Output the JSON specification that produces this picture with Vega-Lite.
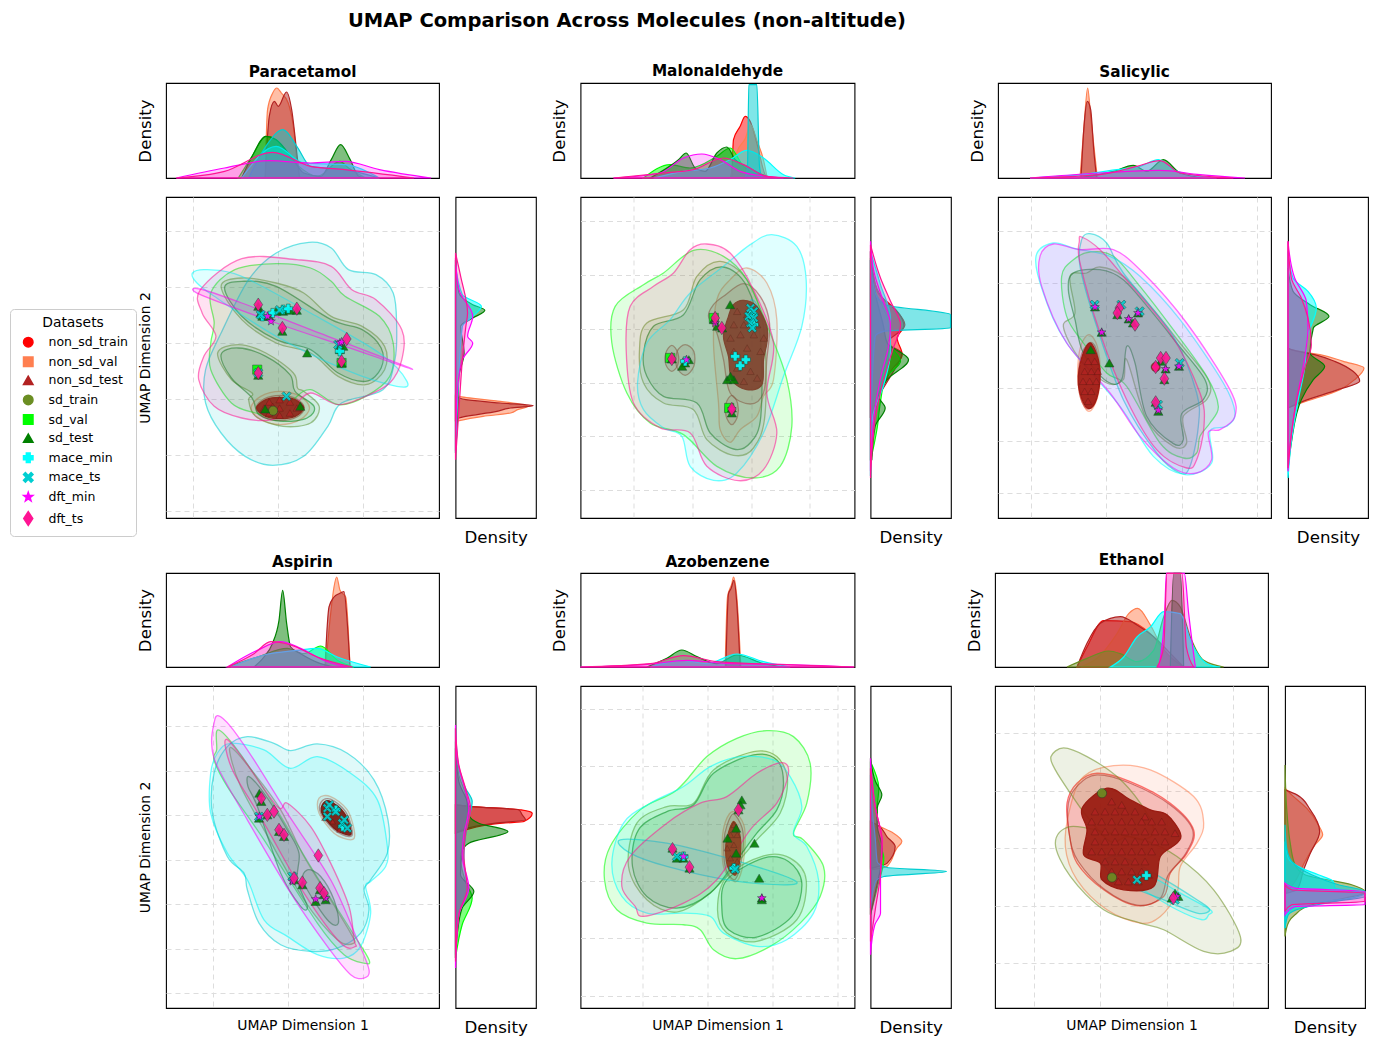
{"$schema":"https://vega.github.io/schema/vega-lite/v6.json","padding":{"left":9,"top":10,"right":5,"bottom":5},"title":{"text":"UMAP Comparison Across Molecules (non-altitude)","fontSize":19.5,"fontWeight":"bold","anchor":"start","frame":"group","dx":182,"offset":32},
"config":{"font":"DejaVu Sans","view":{"stroke":"#000","strokeWidth":1.1},"legend":{"disable":true},"range":{"category":["#ff0000","#ff7f50","#b22222","#6b8e23","#00ff00","#008000","#00ffff","#00ced1","#ff00ff","#ff1493"]},"axis":{"labels":false,"ticks":false,"domain":false,"grid":false,"gridDash":[5,4],"gridColor":"#ddd","titleFontWeight":"normal","titlePadding":10,"titleFontSize":13.9},"title":{"fontSize":15.3,"fontWeight":"bold","offset":3,"anchor":"middle"},"area":{"clip":true,"interpolate":"monotone","strokeWidth":1.2},"line":{"order":null,"interpolate":"cardinal-closed","fillOpacity":0.12,"strokeOpacity":0.55,"strokeWidth":1.3}},
"datasets":{
"e":[],
"c1":[
{"s":"non_sd_val","x":33.2,"y":38},{"s":"non_sd_val","x":39,"y":36.5},{"s":"non_sd_val","x":41.7,"y":33},{"s":"non_sd_val","x":39,"y":29.5},{"s":"non_sd_val","x":33.2,"y":28},{"s":"non_sd_val","x":27.5,"y":29.5},{"s":"non_sd_val","x":24.7,"y":33},{"s":"non_sd_val","x":27.5,"y":36.5},
{"s":"non_sd_test","x":33.2,"y":36.8},{"s":"non_sd_test","x":38,"y":35.7},{"s":"non_sd_test","x":40.2,"y":33},{"s":"non_sd_test","x":38,"y":30.3},{"s":"non_sd_test","x":33.2,"y":29.2},{"s":"non_sd_test","x":28.4,"y":30.3},{"s":"non_sd_test","x":26.2,"y":33},{"s":"non_sd_test","x":28.4,"y":35.7},
{"s":"sd_train","g":1,"x":16,"y":69.5},{"s":"sd_train","g":1,"x":22,"y":72},{"s":"sd_train","g":1,"x":32,"y":70.5},{"s":"sd_train","g":1,"x":40,"y":67.5},{"s":"sd_train","g":1,"x":48,"y":60.5},{"s":"sd_train","g":1,"x":57,"y":57.5},{"s":"sd_train","g":1,"x":63.5,"y":51.5},{"s":"sd_train","g":1,"x":63.5,"y":44.5},{"s":"sd_train","g":1,"x":58,"y":40},{"s":"sd_train","g":1,"x":50,"y":42.5},{"s":"sd_train","g":1,"x":42,"y":49.5},{"s":"sd_train","g":1,"x":32,"y":52.5},{"s":"sd_train","g":1,"x":22,"y":59.5},
{"s":"sd_train","g":2,"x":15,"y":49.5},{"s":"sd_train","g":2,"x":21,"y":52},{"s":"sd_train","g":2,"x":29,"y":49.5},{"s":"sd_train","g":2,"x":37,"y":43.5},{"s":"sd_train","g":2,"x":38.2,"y":39},{"s":"sd_train","g":2,"x":40,"y":38},{"s":"sd_train","g":2,"x":44.5,"y":33.5},{"s":"sd_train","g":2,"x":42,"y":28.5},{"s":"sd_train","g":2,"x":34,"y":27.5},{"s":"sd_train","g":2,"x":26,"y":30.5},{"s":"sd_train","g":2,"x":24,"y":35.5},{"s":"sd_train","g":2,"x":25,"y":37.5},{"s":"sd_train","g":2,"x":19,"y":41.5},
{"s":"sd_val","x":32,"y":76.3},{"s":"sd_val","x":42,"y":75},{"s":"sd_val","x":48,"y":71},{"s":"sd_val","x":52,"y":66.5},{"s":"sd_val","x":62,"y":60.5},{"s":"sd_val","x":66,"y":52.5},{"s":"sd_val","x":65,"y":42.5},{"s":"sd_val","x":58,"y":36.5},{"s":"sd_val","x":50,"y":34},{"s":"sd_val","x":42,"y":38.5},{"s":"sd_val","x":37,"y":35.5},{"s":"sd_val","x":32,"y":30.5},{"s":"sd_val","x":26,"y":31.5},{"s":"sd_val","x":19,"y":34.5},{"s":"sd_val","x":13,"y":44.5},{"s":"sd_val","x":13,"y":52.5},{"s":"sd_val","x":14,"y":58.5},{"s":"sd_val","x":13,"y":67.5},{"s":"sd_val","x":20,"y":74.5},
{"s":"sd_test","g":1,"x":17,"y":69},{"s":"sd_test","g":1,"x":22,"y":71},{"s":"sd_test","g":1,"x":32,"y":69.5},{"s":"sd_test","g":1,"x":48,"y":59.5},{"s":"sd_test","g":1,"x":57,"y":56.5},{"s":"sd_test","g":1,"x":62.5,"y":51},{"s":"sd_test","g":1,"x":62.5,"y":45},{"s":"sd_test","g":1,"x":58,"y":41},{"s":"sd_test","g":1,"x":50,"y":43.5},{"s":"sd_test","g":1,"x":42,"y":50.5},{"s":"sd_test","g":1,"x":32,"y":53.5},{"s":"sd_test","g":1,"x":22,"y":60.5},
{"s":"sd_test","g":2,"x":16,"y":49},{"s":"sd_test","g":2,"x":21,"y":51},{"s":"sd_test","g":2,"x":29,"y":48.5},{"s":"sd_test","g":2,"x":36,"y":43},{"s":"sd_test","g":2,"x":37.5,"y":38},{"s":"sd_test","g":2,"x":43,"y":33.5},{"s":"sd_test","g":2,"x":41,"y":30},{"s":"sd_test","g":2,"x":34,"y":29},{"s":"sd_test","g":2,"x":27,"y":31},{"s":"sd_test","g":2,"x":25,"y":36},{"s":"sd_test","g":2,"x":19,"y":42},
{"s":"mace_min","x":7.7,"y":73.5},{"s":"mace_min","x":12,"y":74.5},{"s":"mace_min","x":22,"y":72.5},{"s":"mace_min","x":42,"y":61.5},{"s":"mace_min","x":62,"y":49.5},{"s":"mace_min","x":70,"y":41},{"s":"mace_min","x":67,"y":39.5},{"s":"mace_min","x":52,"y":44.5},{"s":"mace_min","x":32,"y":54.5},{"s":"mace_min","x":14,"y":66.5},{"s":"mace_min","x":9,"y":70.5},
{"s":"mace_ts","x":41.5,"y":82.7},{"s":"mace_ts","x":48,"y":81},{"s":"mace_ts","x":53,"y":74.5},{"s":"mace_ts","x":61,"y":73},{"s":"mace_ts","x":66,"y":67.5},{"s":"mace_ts","x":67,"y":57.5},{"s":"mace_ts","x":66.5,"y":47.5},{"s":"mace_ts","x":63,"y":38.5},{"s":"mace_ts","x":51,"y":34.5},{"s":"mace_ts","x":47,"y":27.5},{"s":"mace_ts","x":40,"y":18.5},{"s":"mace_ts","x":31,"y":15.8},{"s":"mace_ts","x":23,"y":18.5},{"s":"mace_ts","x":16,"y":25.5},{"s":"mace_ts","x":11.5,"y":34.5},{"s":"mace_ts","x":11.5,"y":44.5},{"s":"mace_ts","x":16,"y":55.5},{"s":"mace_ts","x":24,"y":71.5},{"s":"mace_ts","x":32,"y":79.5},
{"s":"dft_min","x":9.8,"y":68.7},{"s":"dft_min","x":22,"y":64.5},{"s":"dft_min","x":42,"y":56.5},{"s":"dft_min","x":71.5,"y":44.7},{"s":"dft_min","x":52,"y":51.5},{"s":"dft_min","x":32,"y":58.5},{"s":"dft_min","x":10,"y":67},
{"s":"dft_ts","x":10,"y":68.5},{"s":"dft_ts","x":22,"y":77.8},{"s":"dft_ts","x":38,"y":77.5},{"s":"dft_ts","x":48,"y":75.5},{"s":"dft_ts","x":54,"y":68.5},{"s":"dft_ts","x":61,"y":65.5},{"s":"dft_ts","x":68.5,"y":56.5},{"s":"dft_ts","x":68.5,"y":47.5},{"s":"dft_ts","x":65,"y":40.5},{"s":"dft_ts","x":58,"y":36.5},{"s":"dft_ts","x":50,"y":34},{"s":"dft_ts","x":42,"y":37.5},{"s":"dft_ts","x":37,"y":33.5},{"s":"dft_ts","x":31,"y":29.5},{"s":"dft_ts","x":22,"y":30},{"s":"dft_ts","x":14,"y":33.5},{"s":"dft_ts","x":9.5,"y":41.5},{"s":"dft_ts","x":11,"y":48.5},{"s":"dft_ts","x":14.5,"y":54.5},{"s":"dft_ts","x":10.5,"y":61.5}],
"k1":[{"x":33.2,"y":36.2},{"x":37.5,"y":35.5},{"x":40,"y":33},{"x":37.5,"y":30.5},{"x":33.2,"y":29.8},{"x":29,"y":30.5},{"x":26.3,"y":33},{"x":29,"y":35.5}],
"q1":[{"s":"non_sd_test","x":28.5,"y":33},{"s":"non_sd_test","x":30,"y":34.8},{"s":"non_sd_test","x":33,"y":35.5},{"s":"non_sd_test","x":36,"y":34.8},{"s":"non_sd_test","x":38,"y":33},{"s":"non_sd_test","x":30,"y":31.5},{"s":"non_sd_test","x":33,"y":33},{"s":"non_sd_test","x":36,"y":31.5},{"s":"non_sd_test","x":33,"y":30.8},{"s":"non_sd_test","x":31,"y":33.5}],
"p1":[{"s":"sd_train","x":31.1,"y":32.2},{"s":"sd_val","x":26.5,"y":44.5},{"s":"sd_val","x":51,"y":46.5},{"s":"sd_test","x":26.8,"y":63.5},{"s":"sd_test","x":28,"y":60.5},{"s":"sd_test","x":27.5,"y":61.5},{"s":"sd_test","x":30,"y":60.5},{"s":"sd_test","x":32,"y":62},{"s":"sd_test","x":34,"y":62},{"s":"sd_test","x":36,"y":62.3},{"s":"sd_test","x":38,"y":62.3},{"s":"sd_test","x":33.8,"y":56},{"s":"sd_test","x":50.5,"y":52},{"s":"sd_test","x":50.5,"y":50.5},{"s":"sd_test","x":51.5,"y":51.5},{"s":"sd_test","x":51,"y":46.5},{"s":"sd_test","x":26.8,"y":42.8},{"s":"sd_test","x":28.8,"y":32.7},{"s":"sd_test","x":39,"y":33.5},{"s":"sd_test","x":41,"y":49.5},{"s":"mace_min","x":28,"y":60.5},{"s":"mace_min","x":31,"y":61.5},{"s":"mace_min","x":34,"y":62.5},{"s":"mace_min","x":35.5,"y":62.8},{"s":"mace_min","x":50.5,"y":50},{"s":"mace_ts","x":27.5,"y":61},{"s":"mace_ts","x":33,"y":62.4},{"s":"mace_ts","x":50,"y":52},{"s":"mace_ts","x":26.8,"y":43.5},{"s":"mace_ts","x":35,"y":36.5},{"s":"dft_min","x":29.5,"y":60.5},{"s":"dft_min","x":30.5,"y":59},{"s":"dft_min","x":50.5,"y":52.5},{"s":"dft_min","x":51,"y":52.8},{"s":"dft_ts","x":26.8,"y":64},{"s":"dft_ts","x":38,"y":62.8},{"s":"dft_ts","x":33.8,"y":57},{"s":"dft_ts","x":52.5,"y":53.7},{"s":"dft_ts","x":51,"y":47},{"s":"dft_ts","x":26.8,"y":43.5}],
"t1":[
{"s":"non_sd_val","x":28.8,"d":0},{"s":"non_sd_val","x":29.5,"d":20.5},{"s":"non_sd_val","x":31,"d":25.5},{"s":"non_sd_val","x":32.2,"d":27},{"s":"non_sd_val","x":33.5,"d":25.5},{"s":"non_sd_val","x":35.5,"d":22.5},{"s":"non_sd_val","x":37,"d":15.5},{"s":"non_sd_val","x":38.5,"d":1.5},{"s":"non_sd_val","x":39,"d":0},
{"s":"non_sd_test","x":28.8,"d":0},{"s":"non_sd_test","x":30,"d":18.5},{"s":"non_sd_test","x":31.5,"d":23},{"s":"non_sd_test","x":32.6,"d":21.5},{"s":"non_sd_test","x":35,"d":25.8},{"s":"non_sd_test","x":36.5,"d":20.5},{"s":"non_sd_test","x":38,"d":7.5},{"s":"non_sd_test","x":38.8,"d":0},
{"s":"sd_val","x":21,"d":0},{"s":"sd_val","x":25,"d":6.5},{"s":"sd_val","x":29,"d":12.5},{"s":"sd_val","x":32,"d":11.5},{"s":"sd_val","x":38,"d":4},{"s":"sd_val","x":44,"d":0.5},{"s":"sd_val","x":50.5,"d":5},{"s":"sd_val","x":53,"d":3},{"s":"sd_val","x":58,"d":0},
{"s":"sd_test","x":22,"d":0},{"s":"sd_test","x":25,"d":6.5},{"s":"sd_test","x":29,"d":12.5},{"s":"sd_test","x":32,"d":11.5},{"s":"sd_test","x":37,"d":5.5},{"s":"sd_test","x":40,"d":1.5},{"s":"sd_test","x":45,"d":0.5},{"s":"sd_test","x":48,"d":5.5},{"s":"sd_test","x":50.7,"d":10},{"s":"sd_test","x":53.5,"d":5.5},{"s":"sd_test","x":56,"d":0.5},{"s":"sd_test","x":58,"d":0},
{"s":"mace_min","x":22,"d":0},{"s":"mace_min","x":32,"d":9.5},{"s":"mace_min","x":40,"d":4.5},{"s":"mace_min","x":52,"d":4},{"s":"mace_min","x":62,"d":0},
{"s":"mace_ts","x":24,"d":0},{"s":"mace_ts","x":29,"d":9.5},{"s":"mace_ts","x":34,"d":14.5},{"s":"mace_ts","x":38,"d":9.5},{"s":"mace_ts","x":42,"d":3.5},{"s":"mace_ts","x":52,"d":2.5},{"s":"mace_ts","x":62,"d":0},
{"s":"dft_min","x":3,"d":0},{"s":"dft_min","x":17,"d":3},{"s":"dft_min","x":30,"d":5.2},{"s":"dft_min","x":42,"d":4.5},{"s":"dft_min","x":52,"d":5},{"s":"dft_min","x":62,"d":2.5},{"s":"dft_min","x":77,"d":0},
{"s":"dft_ts","x":3,"d":0},{"s":"dft_ts","x":17,"d":2},{"s":"dft_ts","x":31,"d":7.7},{"s":"dft_ts","x":42,"d":3.5},{"s":"dft_ts","x":52,"d":2.5},{"s":"dft_ts","x":72,"d":0}],
"r1":[
{"s":"non_sd_val","y":29,"d":0},{"s":"non_sd_val","y":30.5,"d":8},{"s":"non_sd_val","y":31.5,"d":16},{"s":"non_sd_val","y":32.5,"d":18},{"s":"non_sd_val","y":33.5,"d":21},{"s":"non_sd_val","y":35,"d":13},{"s":"non_sd_val","y":36.5,"d":1},{"s":"non_sd_val","y":37,"d":0},
{"s":"non_sd_test","y":29,"d":0},{"s":"non_sd_test","y":30,"d":1},{"s":"non_sd_test","y":32,"d":12},{"s":"non_sd_test","y":33,"d":16},{"s":"non_sd_test","y":33.7,"d":22.5},{"s":"non_sd_test","y":34.5,"d":13},{"s":"non_sd_test","y":35.5,"d":3},{"s":"non_sd_test","y":36.5,"d":0},
{"s":"sd_test","y":19.5,"d":0},{"s":"sd_test","y":27.5,"d":0.5},{"s":"sd_test","y":42.5,"d":1},{"s":"sd_test","y":49.5,"d":2.5},{"s":"sd_test","y":57.5,"d":1.5},{"s":"sd_test","y":60,"d":5},{"s":"sd_test","y":62.3,"d":8.5},{"s":"sd_test","y":64,"d":5},{"s":"sd_test","y":67.5,"d":1},{"s":"sd_test","y":77.5,"d":0},
{"s":"mace_min","y":19.5,"d":0},{"s":"mace_min","y":37.5,"d":0.7},{"s":"mace_min","y":57.5,"d":2},{"s":"mace_min","y":60.5,"d":5},{"s":"mace_min","y":63.5,"d":7.5},{"s":"mace_min","y":67,"d":2},{"s":"mace_min","y":76,"d":0},
{"s":"dft_min","y":20,"d":0},{"s":"dft_min","y":37.5,"d":0.5},{"s":"dft_min","y":47.5,"d":2},{"s":"dft_min","y":52.5,"d":5},{"s":"dft_min","y":54.5,"d":3.5},{"s":"dft_min","y":60.5,"d":5},{"s":"dft_min","y":68.5,"d":1},{"s":"dft_min","y":78,"d":0},
{"s":"dft_ts","y":17.5,"d":0},{"s":"dft_ts","y":32.5,"d":1},{"s":"dft_ts","y":47.5,"d":2},{"s":"dft_ts","y":57.5,"d":3},{"s":"dft_ts","y":61.5,"d":3.5},{"s":"dft_ts","y":72.5,"d":1.5},{"s":"dft_ts","y":79.5,"d":0}],
"c2":[
{"s":"non_sd_val","x":49.9,"y":75},{"s":"non_sd_val","x":55.9,"y":70.5},{"s":"non_sd_val","x":58.9,"y":59.5},{"s":"non_sd_val","x":57.9,"y":41.5},{"s":"non_sd_val","x":54.9,"y":36.5},{"s":"non_sd_val","x":52.9,"y":30.5},{"s":"non_sd_val","x":47.9,"y":26.5},{"s":"non_sd_val","x":44.9,"y":22.7},{"s":"non_sd_val","x":41.9,"y":26.5},{"s":"non_sd_val","x":41.4,"y":34.5},{"s":"non_sd_val","x":39.9,"y":52.5},{"s":"non_sd_val","x":40.9,"y":65.5},{"s":"non_sd_val","x":44.9,"y":71.5},
{"s":"non_sd_test","x":48.9,"y":70.3},{"s":"non_sd_test","x":53.9,"y":66.5},{"s":"non_sd_test","x":56.7,"y":58.5},{"s":"non_sd_test","x":55.9,"y":47.5},{"s":"non_sd_test","x":54.9,"y":37.5},{"s":"non_sd_test","x":50.9,"y":34.2},{"s":"non_sd_test","x":44.9,"y":37.5},{"s":"non_sd_test","x":42.9,"y":47.5},{"s":"non_sd_test","x":40.9,"y":55.5},{"s":"non_sd_test","x":38.4,"y":60.5},{"s":"non_sd_test","x":39.9,"y":64},{"s":"non_sd_test","x":42.9,"y":66.5},
{"s":"non_sd_test","g":1,"x":27.4,"y":51.8},{"s":"non_sd_test","g":1,"x":29.2,"y":49.5},{"s":"non_sd_test","g":1,"x":29.2,"y":46},{"s":"non_sd_test","g":1,"x":27.4,"y":44},{"s":"non_sd_test","g":1,"x":25.6,"y":46},{"s":"non_sd_test","g":1,"x":25.6,"y":49.5},
{"s":"non_sd_test","g":2,"x":31.4,"y":52},{"s":"non_sd_test","g":2,"x":34,"y":50},{"s":"non_sd_test","g":2,"x":34,"y":45.5},{"s":"non_sd_test","g":2,"x":31.4,"y":42.8},{"s":"non_sd_test","g":2,"x":28.8,"y":45.5},{"s":"non_sd_test","g":2,"x":29,"y":50},
{"s":"non_sd_test","g":3,"x":45.4,"y":36.8},{"s":"non_sd_test","g":3,"x":47.1,"y":34.5},{"s":"non_sd_test","g":3,"x":47.1,"y":30.5},{"s":"non_sd_test","g":3,"x":45.4,"y":28},{"s":"non_sd_test","g":3,"x":43.7,"y":30.5},{"s":"non_sd_test","g":3,"x":43.7,"y":34.5},
{"s":"sd_train","x":41.9,"y":77},{"s":"sd_train","x":49.9,"y":71.5},{"s":"sd_train","x":54.9,"y":57.5},{"s":"sd_train","x":55.4,"y":31.5},{"s":"sd_train","x":51.9,"y":21},{"s":"sd_train","x":45.9,"y":18.8},{"s":"sd_train","x":37.9,"y":23.5},{"s":"sd_train","x":33.9,"y":32.5},{"s":"sd_train","x":24.9,"y":34.5},{"s":"sd_train","x":18.9,"y":40.5},{"s":"sd_train","x":17.7,"y":50.5},{"s":"sd_train","x":19.9,"y":58.5},{"s":"sd_train","x":30.9,"y":62.5},{"s":"sd_train","x":34.9,"y":72.5},
{"s":"sd_val","x":33.9,"y":80.3},{"s":"sd_val","x":42.9,"y":78.5},{"s":"sd_val","x":49.9,"y":71.5},{"s":"sd_val","x":56.9,"y":55.5},{"s":"sd_val","x":61.9,"y":41.5},{"s":"sd_val","x":63.4,"y":27.5},{"s":"sd_val","x":59.9,"y":15.5},{"s":"sd_val","x":51.9,"y":12},{"s":"sd_val","x":40.9,"y":15.5},{"s":"sd_val","x":30.9,"y":25},{"s":"sd_val","x":20.9,"y":28.5},{"s":"sd_val","x":13.9,"y":37.5},{"s":"sd_val","x":9.4,"y":52.5},{"s":"sd_val","x":10.4,"y":63.5},{"s":"sd_val","x":18.9,"y":70},{"s":"sd_val","x":24.9,"y":73.5},
{"s":"sd_test","x":42.9,"y":75.3},{"s":"sd_test","x":49.9,"y":69.5},{"s":"sd_test","x":53.9,"y":54.5},{"s":"sd_test","x":54.1,"y":30.5},{"s":"sd_test","x":50.9,"y":22.5},{"s":"sd_test","x":45.9,"y":20.7},{"s":"sd_test","x":38.9,"y":25.5},{"s":"sd_test","x":34.9,"y":34.5},{"s":"sd_test","x":24.9,"y":36.5},{"s":"sd_test","x":19.9,"y":42.5},{"s":"sd_test","x":18.9,"y":49.5},{"s":"sd_test","x":21.9,"y":57.5},{"s":"sd_test","x":30.9,"y":61},{"s":"sd_test","x":35.9,"y":71.5},
{"s":"mace_min","x":57.4,"y":85},{"s":"mace_min","x":64.9,"y":81.5},{"s":"mace_min","x":67.7,"y":71.5},{"s":"mace_min","x":66.4,"y":57.5},{"s":"mace_min","x":60.9,"y":42.5},{"s":"mace_min","x":54.9,"y":25.5},{"s":"mace_min","x":46.9,"y":13.5},{"s":"mace_min","x":39.9,"y":11.3},{"s":"mace_min","x":32.9,"y":15.5},{"s":"mace_min","x":30.4,"y":24.5},{"s":"mace_min","x":24.9,"y":27},{"s":"mace_min","x":18.9,"y":32.5},{"s":"mace_min","x":17.1,"y":40.5},{"s":"mace_min","x":19.9,"y":52.5},{"s":"mace_min","x":26.9,"y":59.5},{"s":"mace_min","x":32.9,"y":67.5},{"s":"mace_min","x":42.9,"y":75.5},{"s":"mace_min","x":50.9,"y":82},
{"s":"mace_ts","x":51.5,"y":65.5},{"s":"mace_ts","x":53.5,"y":62.5},{"s":"mace_ts","x":53.5,"y":57.5},{"s":"mace_ts","x":51.5,"y":54.5},{"s":"mace_ts","x":49.5,"y":57.5},{"s":"mace_ts","x":49.5,"y":62.5},
{"s":"dft_ts","x":37.9,"y":82.2},{"s":"dft_ts","x":44.9,"y":79.5},{"s":"dft_ts","x":51.9,"y":68.5},{"s":"dft_ts","x":57.9,"y":52.5},{"s":"dft_ts","x":55.9,"y":37.5},{"s":"dft_ts","x":58.9,"y":25.5},{"s":"dft_ts","x":54.9,"y":14.5},{"s":"dft_ts","x":47.4,"y":11.2},{"s":"dft_ts","x":37.9,"y":15.5},{"s":"dft_ts","x":32.9,"y":25.5},{"s":"dft_ts","x":23.9,"y":27},{"s":"dft_ts","x":15.9,"y":34.5},{"s":"dft_ts","x":13.7,"y":50.5},{"s":"dft_ts","x":14.9,"y":63.5},{"s":"dft_ts","x":21.9,"y":69.5},{"s":"dft_ts","x":27.9,"y":73.5},{"s":"dft_ts","x":32.9,"y":80.5}],
"k2":[{"x":48.9,"y":65.3},{"x":52.9,"y":63.5},{"x":55.9,"y":57.5},{"x":55.9,"y":52.5},{"x":54.9,"y":47.5},{"x":54.4,"y":40},{"x":49.9,"y":38.5},{"x":45.4,"y":41.5},{"x":44.4,"y":48.5},{"x":42.9,"y":54.5},{"x":44.4,"y":60.5},{"x":45.9,"y":64}],
"q2":[{"s":"non_sd_test","x":47,"y":62},{"s":"non_sd_test","x":50,"y":61},{"s":"non_sd_test","x":46,"y":58},{"s":"non_sd_test","x":49,"y":58},{"s":"non_sd_test","x":53,"y":58},{"s":"non_sd_test","x":45,"y":54},{"s":"non_sd_test","x":48,"y":55},{"s":"non_sd_test","x":52,"y":55},{"s":"non_sd_test","x":55,"y":54},{"s":"non_sd_test","x":46,"y":50},{"s":"non_sd_test","x":50,"y":51},{"s":"non_sd_test","x":54,"y":50},{"s":"non_sd_test","x":47,"y":45},{"s":"non_sd_test","x":51,"y":44},{"s":"non_sd_test","x":49,"y":41},{"s":"non_sd_test","x":53,"y":42}],
"p2":[{"s":"sd_val","x":26.9,"y":48},{"s":"sd_val","x":40,"y":60},{"s":"sd_val","x":44.6,"y":33},{"s":"sd_test","x":27.4,"y":47.7},{"s":"sd_test","x":31.4,"y":46.5},{"s":"sd_test","x":30.5,"y":45.5},{"s":"sd_test","x":32.5,"y":47.5},{"s":"sd_test","x":40,"y":59.5},{"s":"sd_test","x":41,"y":57.5},{"s":"sd_test","x":42.5,"y":57},{"s":"sd_test","x":44.9,"y":64},{"s":"sd_test","x":45.4,"y":33},{"s":"sd_test","x":45.4,"y":31.5},{"s":"sd_test","x":44,"y":41.5},{"s":"sd_test","x":46,"y":41.5},{"s":"sd_test","x":45,"y":42.5},{"s":"mace_min","x":31.4,"y":47},{"s":"mace_min","x":46.4,"y":48.5},{"s":"mace_min","x":49.6,"y":47.5},{"s":"mace_min","x":47.9,"y":45.7},{"s":"mace_min","x":51,"y":61},{"s":"mace_min","x":52,"y":58},{"s":"mace_ts","x":51,"y":63},{"s":"mace_ts","x":52,"y":62},{"s":"mace_ts","x":50.5,"y":60.5},{"s":"mace_ts","x":52,"y":60},{"s":"mace_ts","x":51,"y":58.5},{"s":"mace_ts","x":51.5,"y":57},{"s":"dft_min","x":31.8,"y":47.5},{"s":"dft_min","x":40.4,"y":58.5},{"s":"dft_min","x":45.4,"y":32.7},{"s":"dft_ts","x":27.4,"y":47.7},{"s":"dft_ts","x":40.4,"y":60},{"s":"dft_ts","x":42.4,"y":57},{"s":"dft_ts","x":45.4,"y":32.7}],
"t2":[
{"s":"non_sd_train","x":45.4,"d":0},{"s":"non_sd_train","x":45.9,"d":11.5},{"s":"non_sd_train","x":47.9,"d":15.5},{"s":"non_sd_train","x":49.4,"d":18.5},{"s":"non_sd_train","x":50.9,"d":17},{"s":"non_sd_train","x":52.9,"d":10.5},{"s":"non_sd_train","x":55.4,"d":1},{"s":"non_sd_train","x":56.4,"d":0},
{"s":"non_sd_val","x":44.9,"d":0},{"s":"non_sd_val","x":47,"d":8},{"s":"non_sd_val","x":49.5,"d":12},{"s":"non_sd_val","x":51,"d":16},{"s":"non_sd_val","x":53,"d":11},{"s":"non_sd_val","x":55,"d":5},{"s":"non_sd_val","x":56,"d":0},
{"s":"sd_val","x":18.9,"d":0},{"s":"sd_val","x":26.9,"d":4},{"s":"sd_val","x":32.9,"d":3},{"s":"sd_val","x":40.9,"d":6.5},{"s":"sd_val","x":44.9,"d":9},{"s":"sd_val","x":48.9,"d":3.5},{"s":"sd_val","x":56.9,"d":0},
{"s":"sd_test","x":20.9,"d":0},{"s":"sd_test","x":25.9,"d":3},{"s":"sd_test","x":29.4,"d":5.5},{"s":"sd_test","x":31.7,"d":7.5},{"s":"sd_test","x":34.4,"d":3},{"s":"sd_test","x":37.4,"d":2},{"s":"sd_test","x":40.9,"d":7.5},{"s":"sd_test","x":43.9,"d":9.3},{"s":"sd_test","x":46.4,"d":5.5},{"s":"sd_test","x":49.9,"d":3.5},{"s":"sd_test","x":55.9,"d":0.5},{"s":"sd_test","x":58.9,"d":0},
{"s":"mace_min","x":21.9,"d":0},{"s":"mace_min","x":30.9,"d":2},{"s":"mace_min","x":38.9,"d":3},{"s":"mace_min","x":44.9,"d":5.5},{"s":"mace_min","x":49.9,"d":8.3},{"s":"mace_min","x":54.9,"d":6},{"s":"mace_min","x":60.9,"d":1},{"s":"mace_min","x":64.4,"d":0},
{"s":"mace_ts","x":49.4,"d":0},{"s":"mace_ts","x":50.1,"d":3.5},{"s":"mace_ts","x":50.5,"d":28},{"s":"mace_ts","x":52.9,"d":28},{"s":"mace_ts","x":53.7,"d":3.5},{"s":"mace_ts","x":54.4,"d":0},
{"s":"dft_min","x":9.9,"d":0},{"s":"dft_min","x":23.9,"d":1.5},{"s":"dft_min","x":30.9,"d":6},{"s":"dft_min","x":36.4,"d":7.2},{"s":"dft_min","x":41.9,"d":5.5},{"s":"dft_min","x":47.9,"d":2},{"s":"dft_min","x":55.9,"d":0.5},{"s":"dft_min","x":60.9,"d":0},
{"s":"dft_ts","x":9.9,"d":0},{"s":"dft_ts","x":24.9,"d":1.5},{"s":"dft_ts","x":33.9,"d":2.5},{"s":"dft_ts","x":42.9,"d":6},{"s":"dft_ts","x":48.9,"d":4},{"s":"dft_ts","x":55.9,"d":0.5},{"s":"dft_ts","x":63.9,"d":0}],
"r2":[
{"s":"non_sd_train","y":30,"d":0},{"s":"non_sd_train","y":37.5,"d":3},{"s":"non_sd_train","y":44,"d":6},{"s":"non_sd_train","y":49,"d":9.5},{"s":"non_sd_train","y":54,"d":8},{"s":"non_sd_train","y":58,"d":10.3},{"s":"non_sd_train","y":63,"d":7},{"s":"non_sd_train","y":68,"d":2},{"s":"non_sd_train","y":80,"d":0},
{"s":"non_sd_test","y":30,"d":0},{"s":"non_sd_test","y":37.5,"d":3},{"s":"non_sd_test","y":42.5,"d":6},{"s":"non_sd_test","y":49.5,"d":9.4},{"s":"non_sd_test","y":52.5,"d":5},{"s":"non_sd_test","y":57.5,"d":10},{"s":"non_sd_test","y":62,"d":8},{"s":"non_sd_test","y":65,"d":4.5},{"s":"non_sd_test","y":70,"d":1.5},{"s":"non_sd_test","y":80,"d":0},
{"s":"sd_val","y":17,"d":0},{"s":"sd_val","y":27,"d":2},{"s":"sd_val","y":35,"d":3},{"s":"sd_val","y":42,"d":4.5},{"s":"sd_val","y":47,"d":9},{"s":"sd_val","y":52,"d":6},{"s":"sd_val","y":60,"d":5},{"s":"sd_val","y":68,"d":1.5},{"s":"sd_val","y":78,"d":0},
{"s":"sd_test","y":17.5,"d":0.4},{"s":"sd_test","y":27.5,"d":1.4},{"s":"sd_test","y":33,"d":4.4},{"s":"sd_test","y":36.5,"d":2.4},{"s":"sd_test","y":41.5,"d":5},{"s":"sd_test","y":47.5,"d":11.4},{"s":"sd_test","y":52.5,"d":5},{"s":"sd_test","y":57.5,"d":3.9},{"s":"sd_test","y":67.5,"d":1.4},{"s":"sd_test","y":77.5,"d":0},
{"s":"mace_min","y":12.5,"d":0},{"s":"mace_min","y":30,"d":0.6},{"s":"mace_min","y":40,"d":4},{"s":"mace_min","y":50,"d":6},{"s":"mace_min","y":60,"d":6},{"s":"mace_min","y":70,"d":3},{"s":"mace_min","y":80,"d":0},
{"s":"mace_ts","y":12.5,"d":0},{"s":"mace_ts","y":37.5,"d":0.4},{"s":"mace_ts","y":54.5,"d":1.4},{"s":"mace_ts","y":56,"d":3.9},{"s":"mace_ts","y":57,"d":24},{"s":"mace_ts","y":61,"d":24},{"s":"mace_ts","y":64,"d":4.4},{"s":"mace_ts","y":67.5,"d":1.4},{"s":"mace_ts","y":77.5,"d":0},
{"s":"dft_min","y":14,"d":0},{"s":"dft_min","y":30,"d":1},{"s":"dft_min","y":42,"d":3},{"s":"dft_min","y":52,"d":5.5},{"s":"dft_min","y":58,"d":6},{"s":"dft_min","y":66,"d":3.5},{"s":"dft_min","y":74,"d":1},{"s":"dft_min","y":83,"d":0},
{"s":"dft_ts","y":12,"d":0},{"s":"dft_ts","y":30,"d":1.5},{"s":"dft_ts","y":40,"d":3.5},{"s":"dft_ts","y":50,"d":6.5},{"s":"dft_ts","y":58,"d":9},{"s":"dft_ts","y":65,"d":6},{"s":"dft_ts","y":72,"d":3},{"s":"dft_ts","y":82,"d":0}],
"c3":[
{"s":"non_sd_val","x":27.3,"y":55},{"s":"non_sd_val","x":29.8,"y":51.5},{"s":"non_sd_val","x":30.7,"y":43.5},{"s":"non_sd_val","x":29.8,"y":36},{"s":"non_sd_val","x":27.3,"y":32},{"s":"non_sd_val","x":24.8,"y":36},{"s":"non_sd_val","x":23.9,"y":43.5},{"s":"non_sd_val","x":24.8,"y":51.5},
{"s":"non_sd_test","x":27.9,"y":52.7},{"s":"non_sd_test","x":29.8,"y":49.5},{"s":"non_sd_test","x":30.4,"y":42.7},{"s":"non_sd_test","x":29.5,"y":36},{"s":"non_sd_test","x":27,"y":32.7},{"s":"non_sd_test","x":24.8,"y":36},{"s":"non_sd_test","x":24.1,"y":42.7},{"s":"non_sd_test","x":25.2,"y":49.5},
{"s":"sd_train","x":30.6,"y":75.3},{"s":"sd_train","x":37.6,"y":72.5},{"s":"sd_train","x":46.6,"y":62.5},{"s":"sd_train","x":54.6,"y":52.5},{"s":"sd_train","x":63.1,"y":41.5},{"s":"sd_train","x":62.6,"y":35.5},{"s":"sd_train","x":55.6,"y":30.5},{"s":"sd_train","x":56.6,"y":22.5},{"s":"sd_train","x":52.6,"y":21.5},{"s":"sd_train","x":44.6,"y":29.5},{"s":"sd_train","x":38.6,"y":47.5},{"s":"sd_train","x":37.6,"y":41.5},{"s":"sd_train","x":32.6,"y":40.5},{"s":"sd_train","x":24.6,"y":47.5},{"s":"sd_train","x":19.6,"y":57.5},{"s":"sd_train","x":23.1,"y":61.5},{"s":"sd_train","x":21.6,"y":72.5},{"s":"sd_train","x":26.6,"y":73.5},
{"s":"sd_val","x":27.6,"y":79.8},{"s":"sd_val","x":34.6,"y":78.5},{"s":"sd_val","x":42.6,"y":69.5},{"s":"sd_val","x":52.6,"y":56.5},{"s":"sd_val","x":62.6,"y":42.5},{"s":"sd_val","x":66.1,"y":33.5},{"s":"sd_val","x":63.6,"y":28.5},{"s":"sd_val","x":60.6,"y":24.5},{"s":"sd_val","x":59.6,"y":19.5},{"s":"sd_val","x":55.6,"y":18},{"s":"sd_val","x":48.6,"y":22.5},{"s":"sd_val","x":38.6,"y":39.5},{"s":"sd_val","x":32.6,"y":43.5},{"s":"sd_val","x":25.6,"y":52.5},{"s":"sd_val","x":20.6,"y":60.5},{"s":"sd_val","x":19.1,"y":72.5},{"s":"sd_val","x":22.6,"y":77.5},
{"s":"sd_test","x":30.6,"y":74.5},{"s":"sd_test","x":37.6,"y":71.5},{"s":"sd_test","x":45.6,"y":62.5},{"s":"sd_test","x":53.6,"y":52.5},{"s":"sd_test","x":62.1,"y":41.5},{"s":"sd_test","x":61.6,"y":35.5},{"s":"sd_test","x":55.1,"y":31.3},{"s":"sd_test","x":55.6,"y":23.5},{"s":"sd_test","x":52.6,"y":22.3},{"s":"sd_test","x":44.6,"y":30.5},{"s":"sd_test","x":41.1,"y":46.5},{"s":"sd_test","x":38.6,"y":51.5},{"s":"sd_test","x":37.1,"y":41.5},{"s":"sd_test","x":32.6,"y":41},{"s":"sd_test","x":25.6,"y":49.5},{"s":"sd_test","x":23.1,"y":59.5},{"s":"sd_test","x":21.1,"y":68.5},{"s":"sd_test","x":22.6,"y":73.5},
{"s":"mace_min","x":16.6,"y":82.5},{"s":"mace_min","x":23.6,"y":80.7},{"s":"mace_min","x":33.6,"y":78.5},{"s":"mace_min","x":42.6,"y":72.5},{"s":"mace_min","x":54.6,"y":59.5},{"s":"mace_min","x":67.6,"y":40.5},{"s":"mace_min","x":71.1,"y":31.5},{"s":"mace_min","x":68.6,"y":27.5},{"s":"mace_min","x":63.6,"y":26},{"s":"mace_min","x":64.1,"y":16.5},{"s":"mace_min","x":56.1,"y":13},{"s":"mace_min","x":46.6,"y":18.5},{"s":"mace_min","x":36.6,"y":33.5},{"s":"mace_min","x":20.6,"y":52.5},{"s":"mace_min","x":13.6,"y":67.5},{"s":"mace_min","x":11.4,"y":78.5},
{"s":"mace_ts","x":27.6,"y":85.3},{"s":"mace_ts","x":32.6,"y":82.5},{"s":"mace_ts","x":37.6,"y":73.5},{"s":"mace_ts","x":52.6,"y":54.5},{"s":"mace_ts","x":59.6,"y":37.5},{"s":"mace_ts","x":60.1,"y":27.5},{"s":"mace_ts","x":57.6,"y":15.5},{"s":"mace_ts","x":54.6,"y":13.5},{"s":"mace_ts","x":47.6,"y":19.5},{"s":"mace_ts","x":37.6,"y":35.5},{"s":"mace_ts","x":29.6,"y":57.5},{"s":"mace_ts","x":24.6,"y":75.5},{"s":"mace_ts","x":25.1,"y":83.5},
{"s":"dft_min","x":16.6,"y":82.2},{"s":"dft_min","x":24.6,"y":80.5},{"s":"dft_min","x":34.6,"y":80.5},{"s":"dft_min","x":43.6,"y":73.5},{"s":"dft_min","x":56.6,"y":58.5},{"s":"dft_min","x":69.6,"y":38.5},{"s":"dft_min","x":71.1,"y":30.5},{"s":"dft_min","x":66.6,"y":26.5},{"s":"dft_min","x":63.1,"y":25.7},{"s":"dft_min","x":64.1,"y":17.5},{"s":"dft_min","x":59.6,"y":13.5},{"s":"dft_min","x":52.6,"y":15},{"s":"dft_min","x":42.6,"y":24.5},{"s":"dft_min","x":33.6,"y":37.5},{"s":"dft_min","x":20.6,"y":52.5},{"s":"dft_min","x":13.1,"y":69.5},{"s":"dft_min","x":12.6,"y":78.5},
{"s":"dft_ts","x":25.1,"y":84.3},{"s":"dft_ts","x":30.6,"y":80.5},{"s":"dft_ts","x":37.6,"y":72.5},{"s":"dft_ts","x":51.6,"y":55.5},{"s":"dft_ts","x":60.6,"y":37.5},{"s":"dft_ts","x":61.8,"y":27.5},{"s":"dft_ts","x":59.6,"y":17.5},{"s":"dft_ts","x":56.6,"y":15},{"s":"dft_ts","x":47.6,"y":20.5},{"s":"dft_ts","x":38.6,"y":35.5},{"s":"dft_ts","x":30.6,"y":55.5},{"s":"dft_ts","x":24.6,"y":76.5},{"s":"dft_ts","x":24.4,"y":83}],
"k3":[{"x":27.8,"y":52.5},{"x":30.1,"y":47.5},{"x":30.6,"y":41.5},{"x":29.1,"y":34.5},{"x":26.8,"y":33},{"x":24.6,"y":37.5},{"x":24.1,"y":42.5},{"x":25.6,"y":49.5}],
"q3":[{"s":"non_sd_test","x":27,"y":47},{"s":"non_sd_test","x":29,"y":47},{"s":"non_sd_test","x":26,"y":44},{"s":"non_sd_test","x":28,"y":44},{"s":"non_sd_test","x":30,"y":44},{"s":"non_sd_test","x":25.5,"y":41},{"s":"non_sd_test","x":27.5,"y":41},{"s":"non_sd_test","x":29.5,"y":41},{"s":"non_sd_test","x":26,"y":38},{"s":"non_sd_test","x":28,"y":38},{"s":"non_sd_test","x":27,"y":35}],
"p3":[{"s":"non_sd_train","x":47.3,"y":45.3},{"s":"sd_test","x":29.1,"y":63.3},{"s":"sd_test","x":35.8,"y":61},{"s":"sd_test","x":39.2,"y":59.7},{"s":"sd_test","x":42,"y":61.5},{"s":"sd_test","x":40.5,"y":58.5},{"s":"sd_test","x":31.1,"y":55.7},{"s":"sd_test","x":27.8,"y":50.5},{"s":"sd_test","x":33.4,"y":46.5},{"s":"sd_test","x":50.3,"y":44.7},{"s":"sd_test","x":49.9,"y":41.5},{"s":"sd_test","x":54.3,"y":45.5},{"s":"sd_test","x":47.3,"y":34.7},{"s":"sd_test","x":48.1,"y":32},{"s":"sd_test","x":48.8,"y":47},{"s":"mace_ts","x":29,"y":64},{"s":"mace_ts","x":37,"y":64},{"s":"mace_ts","x":42.5,"y":62},{"s":"mace_ts","x":48,"y":34},{"s":"mace_ts","x":54.5,"y":46.5},{"s":"dft_min","x":29.1,"y":63.3},{"s":"dft_min","x":39.2,"y":59.7},{"s":"dft_min","x":42,"y":61.5},{"s":"dft_min","x":31.1,"y":55.7},{"s":"dft_min","x":50.3,"y":44.7},{"s":"dft_min","x":54.3,"y":45.5},{"s":"dft_min","x":48.1,"y":32.3},{"s":"dft_ts","x":36.4,"y":63},{"s":"dft_ts","x":35.8,"y":61.5},{"s":"dft_ts","x":41.1,"y":58},{"s":"dft_ts","x":48.8,"y":48},{"s":"dft_ts","x":50.4,"y":48},{"s":"dft_ts","x":47.3,"y":45.3},{"s":"dft_ts","x":49.9,"y":41.8},{"s":"dft_ts","x":47.3,"y":34.7}],
"t3":[
{"s":"non_sd_val","x":24.6,"d":0},{"s":"non_sd_val","x":25.8,"d":15.5},{"s":"non_sd_val","x":26.9,"d":27},{"s":"non_sd_val","x":27.8,"d":18.5},{"s":"non_sd_val","x":29.8,"d":0},
{"s":"non_sd_test","x":24.9,"d":0},{"s":"non_sd_test","x":25.8,"d":15.5},{"s":"non_sd_test","x":26.8,"d":23},{"s":"non_sd_test","x":27.8,"d":20.5},{"s":"non_sd_test","x":28.8,"d":7.5},{"s":"non_sd_test","x":29.6,"d":0},
{"s":"sd_test","x":23.6,"d":0},{"s":"sd_test","x":34.6,"d":2},{"s":"sd_test","x":40.6,"d":3.8},{"s":"sd_test","x":44.6,"d":2},{"s":"sd_test","x":49.6,"d":5.5},{"s":"sd_test","x":54.6,"d":1.5},{"s":"sd_test","x":62.6,"d":0},
{"s":"mace_min","x":9.6,"d":0},{"s":"mace_min","x":24.6,"d":1},{"s":"mace_min","x":35.6,"d":2.5},{"s":"mace_min","x":42.6,"d":3.5},{"s":"mace_min","x":48.1,"d":5.5},{"s":"mace_min","x":53.6,"d":2},{"s":"mace_min","x":65.6,"d":0},
{"s":"dft_min","x":9.6,"d":0},{"s":"dft_min","x":30.6,"d":1.5},{"s":"dft_min","x":48.6,"d":2.3},{"s":"dft_min","x":60.6,"d":1},{"s":"dft_min","x":74.1,"d":0},
{"s":"dft_ts","x":9.6,"d":0},{"s":"dft_ts","x":30.6,"d":1},{"s":"dft_ts","x":41.6,"d":3.5},{"s":"dft_ts","x":48.6,"d":5.2},{"s":"dft_ts","x":54.6,"d":1.5},{"s":"dft_ts","x":70.6,"d":0}],
"r3":[
{"s":"non_sd_val","y":33,"d":0},{"s":"non_sd_val","y":34.5,"d":4},{"s":"non_sd_val","y":38.5,"d":15.6},{"s":"non_sd_val","y":41.5,"d":20},{"s":"non_sd_val","y":45,"d":22.8},{"s":"non_sd_val","y":47,"d":16.6},{"s":"non_sd_val","y":49,"d":9.6},{"s":"non_sd_val","y":50.5,"d":1},{"s":"non_sd_val","y":51,"d":0},
{"s":"non_sd_test","y":33,"d":0},{"s":"non_sd_test","y":35,"d":4.5},{"s":"non_sd_test","y":38.5,"d":15},{"s":"non_sd_test","y":41,"d":21.5},{"s":"non_sd_test","y":44,"d":19.5},{"s":"non_sd_test","y":47,"d":14},{"s":"non_sd_test","y":49,"d":8},{"s":"non_sd_test","y":50.5,"d":1},{"s":"non_sd_test","y":51,"d":0},
{"s":"sd_test","y":14.5,"d":0},{"s":"sd_test","y":22.5,"d":1},{"s":"sd_test","y":35.5,"d":4},{"s":"sd_test","y":41.5,"d":7.6},{"s":"sd_test","y":45.5,"d":11},{"s":"sd_test","y":49.5,"d":6.6},{"s":"sd_test","y":57,"d":7.6},{"s":"sd_test","y":60.5,"d":12.3},{"s":"sd_test","y":64,"d":6.6},{"s":"sd_test","y":68,"d":1.5},{"s":"sd_test","y":75,"d":0},
{"s":"mace_min","y":12,"d":0},{"s":"mace_min","y":23,"d":1},{"s":"mace_min","y":35,"d":3},{"s":"mace_min","y":45,"d":5},{"s":"mace_min","y":55,"d":6},{"s":"mace_min","y":63,"d":8.5},{"s":"mace_min","y":68,"d":6},{"s":"mace_min","y":72,"d":1.5},{"s":"mace_min","y":80,"d":0},
{"s":"dft_min","y":14,"d":0},{"s":"dft_min","y":25,"d":1},{"s":"dft_min","y":35,"d":2.5},{"s":"dft_min","y":48,"d":5},{"s":"dft_min","y":57,"d":6},{"s":"dft_min","y":65,"d":5.5},{"s":"dft_min","y":72,"d":2},{"s":"dft_min","y":83,"d":0},
{"s":"dft_ts","y":15,"d":0},{"s":"dft_ts","y":25,"d":1},{"s":"dft_ts","y":35,"d":2.5},{"s":"dft_ts","y":45,"d":5},{"s":"dft_ts","y":52,"d":7},{"s":"dft_ts","y":60,"d":6},{"s":"dft_ts","y":66,"d":4},{"s":"dft_ts","y":72,"d":1},{"s":"dft_ts","y":83,"d":0}],
"c4":[
{"s":"non_sd_val","x":45.9,"y":63},{"s":"non_sd_val","x":49.4,"y":63.5},{"s":"non_sd_val","x":54.4,"y":59.5},{"s":"non_sd_val","x":56.6,"y":52.5},{"s":"non_sd_val","x":55.4,"y":50.5},{"s":"non_sd_val","x":50.4,"y":52.5},{"s":"non_sd_val","x":45.9,"y":58.5},
{"s":"non_sd_test","x":46.6,"y":62},{"s":"non_sd_test","x":49.4,"y":62.7},{"s":"non_sd_test","x":53.9,"y":59},{"s":"non_sd_test","x":55.9,"y":53},{"s":"non_sd_test","x":54.9,"y":51.5},{"s":"non_sd_test","x":50.4,"y":53.5},{"s":"non_sd_test","x":46.4,"y":58.5},
{"s":"sd_train","x":19.9,"y":78},{"s":"sd_train","x":26.4,"y":70.5},{"s":"sd_train","x":34.4,"y":59.5},{"s":"sd_train","x":41.4,"y":45.5},{"s":"sd_train","x":49.4,"y":32.5},{"s":"sd_train","x":55.4,"y":22.5},{"s":"sd_train","x":56.4,"y":19.5},{"s":"sd_train","x":51.4,"y":20.5},{"s":"sd_train","x":41.4,"y":32.5},{"s":"sd_train","x":29.4,"y":53.5},{"s":"sd_train","x":22.4,"y":66.5},{"s":"sd_train","x":19.4,"y":75.5},
{"s":"sd_val","x":15.6,"y":83.5},{"s":"sd_val","x":21.4,"y":77.5},{"s":"sd_val","x":31.4,"y":62.5},{"s":"sd_val","x":43.4,"y":42.5},{"s":"sd_val","x":55.4,"y":23.5},{"s":"sd_val","x":60.9,"y":14.5},{"s":"sd_val","x":59.4,"y":13.5},{"s":"sd_val","x":53.4,"y":16},{"s":"sd_val","x":45.4,"y":25.5},{"s":"sd_val","x":29.4,"y":50.5},{"s":"sd_val","x":18.4,"y":66.5},{"s":"sd_val","x":14.4,"y":74.5},{"s":"sd_val","x":15.2,"y":77.5},
{"s":"sd_test","g":1,"x":24.9,"y":69.5},{"s":"sd_test","g":1,"x":29.4,"y":64.5},{"s":"sd_test","g":1,"x":36.4,"y":53.5},{"s":"sd_test","g":1,"x":39.9,"y":46.5},{"s":"sd_test","g":1,"x":39.4,"y":38.5},{"s":"sd_test","g":1,"x":42.4,"y":30.5},{"s":"sd_test","g":1,"x":40.4,"y":30.5},{"s":"sd_test","g":1,"x":34.4,"y":40.5},{"s":"sd_test","g":1,"x":27.4,"y":60.5},{"s":"sd_test","g":1,"x":24.6,"y":66.5},
{"s":"sd_test","g":2,"x":42.4,"y":41.5},{"s":"sd_test","g":2,"x":46.4,"y":39.5},{"s":"sd_test","g":2,"x":50.4,"y":32.5},{"s":"sd_test","g":2,"x":51.7,"y":25.5},{"s":"sd_test","g":2,"x":48.4,"y":26.5},{"s":"sd_test","g":2,"x":41.4,"y":37.5},
{"s":"mace_min","x":19.4,"y":79.5},{"s":"mace_min","x":29.4,"y":77.5},{"s":"mace_min","x":37.2,"y":72},{"s":"mace_min","x":45.4,"y":75.5},{"s":"mace_min","x":55.4,"y":70.5},{"s":"mace_min","x":63.4,"y":62.5},{"s":"mace_min","x":66.4,"y":48.5},{"s":"mace_min","x":65.9,"y":42.5},{"s":"mace_min","x":61.4,"y":38},{"s":"mace_min","x":59.9,"y":36.5},{"s":"mace_min","x":61.4,"y":28.5},{"s":"mace_min","x":58.4,"y":18.5},{"s":"mace_min","x":53.4,"y":15},{"s":"mace_min","x":45.4,"y":16},{"s":"mace_min","x":36.4,"y":21.5},{"s":"mace_min","x":29.4,"y":26.5},{"s":"mace_min","x":24.4,"y":38.5},{"s":"mace_min","x":18.4,"y":46.5},{"s":"mace_min","x":13.4,"y":58.5},{"s":"mace_min","x":13.4,"y":70.5},{"s":"mace_min","x":15.4,"y":76.5},
{"s":"mace_ts","x":24.4,"y":81.5},{"s":"mace_ts","x":32.4,"y":79.5},{"s":"mace_ts","x":37.4,"y":77.3},{"s":"mace_ts","x":45.4,"y":79.3},{"s":"mace_ts","x":54.4,"y":76.5},{"s":"mace_ts","x":62.4,"y":68.5},{"s":"mace_ts","x":66.6,"y":56.5},{"s":"mace_ts","x":66.4,"y":46.5},{"s":"mace_ts","x":61.4,"y":38.5},{"s":"mace_ts","x":59.4,"y":35.5},{"s":"mace_ts","x":60.9,"y":29.5},{"s":"mace_ts","x":58.4,"y":22.5},{"s":"mace_ts","x":51.4,"y":18},{"s":"mace_ts","x":43.4,"y":17},{"s":"mace_ts","x":34.4,"y":19},{"s":"mace_ts","x":27.9,"y":25.5},{"s":"mace_ts","x":24.4,"y":35.5},{"s":"mace_ts","x":23.4,"y":40.5},{"s":"mace_ts","x":18.4,"y":45.5},{"s":"mace_ts","x":13.9,"y":58.5},{"s":"mace_ts","x":14.4,"y":70.5},{"s":"mace_ts","x":18.4,"y":78.5},
{"s":"dft_min","x":15.6,"y":87.8},{"s":"dft_min","x":19.4,"y":84.5},{"s":"dft_min","x":26.4,"y":74.5},{"s":"dft_min","x":36.4,"y":58.5},{"s":"dft_min","x":49.4,"y":38.5},{"s":"dft_min","x":57.4,"y":20.5},{"s":"dft_min","x":60.9,"y":11.5},{"s":"dft_min","x":59.4,"y":9},{"s":"dft_min","x":55.4,"y":10},{"s":"dft_min","x":48.4,"y":18.5},{"s":"dft_min","x":37.4,"y":34.5},{"s":"dft_min","x":24.4,"y":56.5},{"s":"dft_min","x":15.4,"y":72.5},{"s":"dft_min","x":13.7,"y":79.5},{"s":"dft_min","x":14.4,"y":85.5},
{"s":"dft_ts","x":18.6,"y":80.5},{"s":"dft_ts","x":23.4,"y":74.5},{"s":"dft_ts","x":33.4,"y":60.5},{"s":"dft_ts","x":36.4,"y":61.5},{"s":"dft_ts","x":43.4,"y":54.5},{"s":"dft_ts","x":49.4,"y":43.5},{"s":"dft_ts","x":54.9,"y":30.5},{"s":"dft_ts","x":56.4,"y":20.5},{"s":"dft_ts","x":56.9,"y":18.5},{"s":"dft_ts","x":52.4,"y":19.5},{"s":"dft_ts","x":41.4,"y":34.5},{"s":"dft_ts","x":29.4,"y":55.5},{"s":"dft_ts","x":20.4,"y":70.5},{"s":"dft_ts","x":17.8,"y":78.5}],
"k4":[{"x":47.2,"y":61.5},{"x":49.4,"y":62},{"x":53.5,"y":58.5},{"x":55.5,"y":53},{"x":54.6,"y":52},{"x":50.4,"y":54},{"x":46.8,"y":58.5}],
"q4":[{"s":"non_sd_test","x":48,"y":60},{"s":"non_sd_test","x":51,"y":60},{"s":"non_sd_test","x":47.5,"y":57},{"s":"non_sd_test","x":50,"y":56},{"s":"non_sd_test","x":53,"y":56},{"s":"non_sd_test","x":54,"y":53.5},{"s":"non_sd_test","x":52,"y":53.5}],
"p4":[{"s":"sd_test","x":28,"y":64.5},{"s":"sd_test","x":28.6,"y":62},{"s":"sd_test","x":30.4,"y":58},{"s":"sd_test","x":27.9,"y":57},{"s":"sd_test","x":33.9,"y":53},{"s":"sd_test","x":35.4,"y":51.5},{"s":"sd_test","x":38.4,"y":38.5},{"s":"sd_test","x":40.9,"y":37},{"s":"sd_test","x":46.2,"y":35.5},{"s":"sd_test","x":47.4,"y":34},{"s":"sd_test","x":44.9,"y":32},{"s":"sd_test","x":47.9,"y":32.5},{"s":"mace_min","x":51,"y":59.5},{"s":"mace_min","x":53,"y":54.5},{"s":"mace_ts","x":27.9,"y":57.5},{"s":"mace_ts","x":37.9,"y":39.5},{"s":"mace_ts","x":48.4,"y":60},{"s":"mace_ts","x":50.9,"y":59},{"s":"mace_ts","x":48.4,"y":57.5},{"s":"mace_ts","x":52.9,"y":55.5},{"s":"mace_ts","x":54.4,"y":54},{"s":"mace_ts","x":49,"y":61},{"s":"mace_ts","x":53.5,"y":56.5},{"s":"dft_min","x":28,"y":57.5},{"s":"dft_min","x":38,"y":38},{"s":"dft_min","x":44.9,"y":32.7},{"s":"dft_min","x":47.9,"y":33},{"s":"dft_ts","x":28.6,"y":63},{"s":"dft_ts","x":30.4,"y":58},{"s":"dft_ts","x":32.4,"y":59},{"s":"dft_ts","x":33.9,"y":53.5},{"s":"dft_ts","x":35.4,"y":52},{"s":"dft_ts","x":38.4,"y":39},{"s":"dft_ts","x":40.9,"y":37.7},{"s":"dft_ts","x":46.2,"y":36},{"s":"dft_ts","x":47.4,"y":34.5},{"s":"dft_ts","x":45.7,"y":45.8}],
"t4":[
{"s":"non_sd_val","x":47.9,"d":0},{"s":"non_sd_val","x":49.4,"d":16},{"s":"non_sd_val","x":50.4,"d":24},{"s":"non_sd_val","x":51.2,"d":27},{"s":"non_sd_val","x":52.2,"d":23},{"s":"non_sd_val","x":53.9,"d":21},{"s":"non_sd_val","x":55.2,"d":0},
{"s":"non_sd_test","x":47.7,"d":0},{"s":"non_sd_test","x":48.9,"d":18},{"s":"non_sd_test","x":50.4,"d":21},{"s":"non_sd_test","x":51.9,"d":22},{"s":"non_sd_test","x":53.4,"d":22.6},{"s":"non_sd_test","x":54.4,"d":13},{"s":"non_sd_test","x":55.2,"d":0},
{"s":"sd_val","x":18.4,"d":0},{"s":"sd_val","x":27.4,"d":3},{"s":"sd_val","x":36.4,"d":5.6},{"s":"sd_val","x":41.4,"d":4},{"s":"sd_val","x":46.4,"d":6.3},{"s":"sd_val","x":51.4,"d":2},{"s":"sd_val","x":56.4,"d":0},
{"s":"sd_test","x":26.4,"d":0},{"s":"sd_test","x":29.4,"d":3},{"s":"sd_test","x":31.9,"d":7},{"s":"sd_test","x":33.9,"d":14},{"s":"sd_test","x":35,"d":23},{"s":"sd_test","x":36.2,"d":13},{"s":"sd_test","x":37.4,"d":6},{"s":"sd_test","x":40.4,"d":4},{"s":"sd_test","x":46.4,"d":1},{"s":"sd_test","x":50.4,"d":0},
{"s":"mace_min","x":19.4,"d":0},{"s":"mace_min","x":29.4,"d":3.6},{"s":"mace_min","x":39.4,"d":5},{"s":"mace_min","x":45.4,"d":5.6},{"s":"mace_min","x":51.4,"d":3},{"s":"mace_min","x":61.4,"d":0},
{"s":"dft_min","x":18.4,"d":0},{"s":"dft_min","x":27.4,"d":5},{"s":"dft_min","x":34.4,"d":7.6},{"s":"dft_min","x":40.4,"d":5.6},{"s":"dft_min","x":47.4,"d":2},{"s":"dft_min","x":54.4,"d":0},
{"s":"dft_ts","x":18.4,"d":0},{"s":"dft_ts","x":26.4,"d":4},{"s":"dft_ts","x":31.4,"d":7.6},{"s":"dft_ts","x":37.4,"d":6.6},{"s":"dft_ts","x":45.4,"d":3},{"s":"dft_ts","x":53.4,"d":0.6},{"s":"dft_ts","x":56,"d":0}],
"r4":[
{"s":"non_sd_train","y":52.5,"d":0},{"s":"non_sd_train","y":53.5,"d":3},{"s":"non_sd_train","y":55.5,"d":14},{"s":"non_sd_train","y":56,"d":20.5},{"s":"non_sd_train","y":58.5,"d":23},{"s":"non_sd_train","y":59.5,"d":19.7},{"s":"non_sd_train","y":60.5,"d":5},{"s":"non_sd_train","y":61,"d":0},
{"s":"non_sd_test","y":52.5,"d":0},{"s":"non_sd_test","y":53.5,"d":2},{"s":"non_sd_test","y":55.5,"d":12},{"s":"non_sd_test","y":56.5,"d":21},{"s":"non_sd_test","y":58,"d":20},{"s":"non_sd_test","y":59.5,"d":19},{"s":"non_sd_test","y":60.5,"d":5},{"s":"non_sd_test","y":61,"d":0},
{"s":"sd_val","y":15,"d":0},{"s":"sd_val","y":25,"d":2},{"s":"sd_val","y":33,"d":5},{"s":"sd_val","y":38,"d":3},{"s":"sd_val","y":45,"d":1.5},{"s":"sd_val","y":52,"d":3},{"s":"sd_val","y":56,"d":3},{"s":"sd_val","y":62,"d":3.5},{"s":"sd_val","y":70,"d":1},{"s":"sd_val","y":80,"d":0},
{"s":"sd_test","y":15,"d":0},{"s":"sd_test","y":22,"d":0.5},{"s":"sd_test","y":30,"d":2},{"s":"sd_test","y":35,"d":5.5},{"s":"sd_test","y":40,"d":1.5},{"s":"sd_test","y":47,"d":2},{"s":"sd_test","y":49.5,"d":4},{"s":"sd_test","y":53,"d":15.7},{"s":"sd_test","y":55.5,"d":7},{"s":"sd_test","y":58,"d":4},{"s":"sd_test","y":62,"d":3.5},{"s":"sd_test","y":68,"d":1},{"s":"sd_test","y":78,"d":0},
{"s":"mace_ts","y":16,"d":0},{"s":"mace_ts","y":28,"d":1},{"s":"mace_ts","y":35,"d":3.5},{"s":"mace_ts","y":45,"d":2.5},{"s":"mace_ts","y":55,"d":3.5},{"s":"mace_ts","y":62,"d":5},{"s":"mace_ts","y":66,"d":3},{"s":"mace_ts","y":72,"d":1},{"s":"mace_ts","y":84,"d":0},
{"s":"dft_min","y":12,"d":0},{"s":"dft_min","y":28,"d":1},{"s":"dft_min","y":36,"d":4},{"s":"dft_min","y":46,"d":2},{"s":"dft_min","y":52,"d":2.5},{"s":"dft_min","y":60,"d":4},{"s":"dft_min","y":67,"d":2.5},{"s":"dft_min","y":75,"d":0.5},{"s":"dft_min","y":85,"d":0},
{"s":"dft_ts","y":14,"d":0},{"s":"dft_ts","y":28,"d":1},{"s":"dft_ts","y":36,"d":3.5},{"s":"dft_ts","y":46,"d":2.5},{"s":"dft_ts","y":52,"d":3},{"s":"dft_ts","y":60,"d":4.5},{"s":"dft_ts","y":66,"d":3},{"s":"dft_ts","y":73,"d":1},{"s":"dft_ts","y":84,"d":0}],
"c5":[
{"s":"non_sd_val","x":45.9,"y":59},{"s":"non_sd_val","x":49,"y":55},{"s":"non_sd_val","x":49.3,"y":48},{"s":"non_sd_val","x":48,"y":40},{"s":"non_sd_val","x":46,"y":38},{"s":"non_sd_val","x":43,"y":42},{"s":"non_sd_val","x":42.5,"y":50},{"s":"non_sd_val","x":43.5,"y":56},
{"s":"non_sd_test","x":45.9,"y":58.3},{"s":"non_sd_test","x":48.5,"y":54},{"s":"non_sd_test","x":48.8,"y":48},{"s":"non_sd_test","x":47.5,"y":41},{"s":"non_sd_test","x":46,"y":38.5},{"s":"non_sd_test","x":43.5,"y":42},{"s":"non_sd_test","x":43,"y":50},{"s":"non_sd_test","x":44,"y":55},
{"s":"sd_train","g":1,"x":51.9,"y":77},{"s":"sd_train","g":1,"x":58.9,"y":75.5},{"s":"sd_train","g":1,"x":62.1,"y":68.5},{"s":"sd_train","g":1,"x":59.9,"y":58.5},{"s":"sd_train","g":1,"x":52.9,"y":50.5},{"s":"sd_train","g":1,"x":46.9,"y":43.5},{"s":"sd_train","g":1,"x":38.9,"y":34.5},{"s":"sd_train","g":1,"x":28.9,"y":28.8},{"s":"sd_train","g":1,"x":19.9,"y":32.5},{"s":"sd_train","g":1,"x":14.4,"y":42.5},{"s":"sd_train","g":1,"x":16.9,"y":55.5},{"s":"sd_train","g":1,"x":25.9,"y":60.5},{"s":"sd_train","g":1,"x":33.9,"y":61.5},{"s":"sd_train","g":1,"x":39.9,"y":71.5},
{"s":"sd_train","g":2,"x":54.9,"y":45.7},{"s":"sd_train","g":2,"x":62.9,"y":45},{"s":"sd_train","g":2,"x":67.7,"y":38.5},{"s":"sd_train","g":2,"x":64.9,"y":26.5},{"s":"sd_train","g":2,"x":52.9,"y":20},{"s":"sd_train","g":2,"x":43.9,"y":22.5},{"s":"sd_train","g":2,"x":41.1,"y":29.5},{"s":"sd_train","g":2,"x":43.9,"y":39.5},
{"s":"sd_val","x":55.9,"y":83.3},{"s":"sd_val","x":63.9,"y":81.5},{"s":"sd_val","x":68.9,"y":73.5},{"s":"sd_val","x":67.9,"y":61.5},{"s":"sd_val","x":63.9,"y":52.5},{"s":"sd_val","x":66.9,"y":50.5},{"s":"sd_val","x":72.9,"y":42.5},{"s":"sd_val","x":71.9,"y":33.5},{"s":"sd_val","x":65.9,"y":25.5},{"s":"sd_val","x":56.9,"y":18.5},{"s":"sd_val","x":46.9,"y":14.8},{"s":"sd_val","x":39.9,"y":17.5},{"s":"sd_val","x":35.9,"y":23.5},{"s":"sd_val","x":30.9,"y":25},{"s":"sd_val","x":19.9,"y":25.5},{"s":"sd_val","x":10.9,"y":29.5},{"s":"sd_val","x":7.2,"y":38.5},{"s":"sd_val","x":8.9,"y":48.5},{"s":"sd_val","x":17.9,"y":59.5},{"s":"sd_val","x":28.9,"y":65.5},{"s":"sd_val","x":37.9,"y":75.5},{"s":"sd_val","x":46.9,"y":81},
{"s":"sd_test","g":1,"x":51.9,"y":76},{"s":"sd_test","g":1,"x":58.9,"y":74.5},{"s":"sd_test","g":1,"x":60.9,"y":67.5},{"s":"sd_test","g":1,"x":58.9,"y":59.5},{"s":"sd_test","g":1,"x":52.9,"y":52.5},{"s":"sd_test","g":1,"x":46.9,"y":44.5},{"s":"sd_test","g":1,"x":38.9,"y":34.5},{"s":"sd_test","g":1,"x":28.9,"y":30},{"s":"sd_test","g":1,"x":19.9,"y":33.5},{"s":"sd_test","g":1,"x":15.6,"y":42.5},{"s":"sd_test","g":1,"x":17.4,"y":53.5},{"s":"sd_test","g":1,"x":25.9,"y":59},{"s":"sd_test","g":1,"x":33.9,"y":61},{"s":"sd_test","g":1,"x":39.9,"y":70.5},
{"s":"sd_test","g":2,"x":54.9,"y":45},{"s":"sd_test","g":2,"x":62.4,"y":44},{"s":"sd_test","g":2,"x":66.4,"y":37.5},{"s":"sd_test","g":2,"x":63.4,"y":27.5},{"s":"sd_test","g":2,"x":52.9,"y":21.3},{"s":"sd_test","g":2,"x":44.4,"y":23.5},{"s":"sd_test","g":2,"x":42.4,"y":30},{"s":"sd_test","g":2,"x":43.9,"y":38.5},
{"s":"mace_min","x":47.9,"y":75.5},{"s":"mace_min","x":57.9,"y":74.5},{"s":"mace_min","x":62.9,"y":69.5},{"s":"mace_min","x":66.4,"y":60.5},{"s":"mace_min","x":63.9,"y":52.5},{"s":"mace_min","x":67.9,"y":48.5},{"s":"mace_min","x":71.4,"y":38.5},{"s":"mace_min","x":69.9,"y":28.5},{"s":"mace_min","x":61.9,"y":20.5},{"s":"mace_min","x":52.9,"y":18.5},{"s":"mace_min","x":42.9,"y":22.5},{"s":"mace_min","x":38.9,"y":27.5},{"s":"mace_min","x":30.9,"y":28.5},{"s":"mace_min","x":19.9,"y":28.5},{"s":"mace_min","x":12.4,"y":33.5},{"s":"mace_min","x":9.4,"y":43.5},{"s":"mace_min","x":12.9,"y":55.5},{"s":"mace_min","x":20.9,"y":61.5},{"s":"mace_min","x":30.9,"y":66.5},{"s":"mace_min","x":38.9,"y":72.5},
{"s":"mace_ts","x":11.9,"y":50.5},{"s":"mace_ts","x":25.9,"y":49.5},{"s":"mace_ts","x":45.9,"y":44.5},{"s":"mace_ts","x":63.9,"y":38.5},{"s":"mace_ts","x":60.9,"y":37},{"s":"mace_ts","x":43.9,"y":38.5},{"s":"mace_ts","x":25.9,"y":42.5},{"s":"mace_ts","x":14.9,"y":46.5},
{"s":"dft_ts","x":60.4,"y":73.7},{"s":"dft_ts","x":62.4,"y":70.5},{"s":"dft_ts","x":58.9,"y":61.5},{"s":"dft_ts","x":50.9,"y":53.5},{"s":"dft_ts","x":40.9,"y":38.5},{"s":"dft_ts","x":30.9,"y":31.5},{"s":"dft_ts","x":18.9,"y":27.5},{"s":"dft_ts","x":16.4,"y":30.5},{"s":"dft_ts","x":12.4,"y":36.5},{"s":"dft_ts","x":14.9,"y":45.5},{"s":"dft_ts","x":25.9,"y":55.5},{"s":"dft_ts","x":35.9,"y":61.5},{"s":"dft_ts","x":43.9,"y":63.5},{"s":"dft_ts","x":52.9,"y":70.5}],
"k5":[{"x":46,"y":56},{"x":47.8,"y":52},{"x":48,"y":46},{"x":47,"y":41},{"x":46,"y":40},{"x":44,"y":43},{"x":43.6,"y":49},{"x":44.5,"y":53}],
"q5":[{"s":"non_sd_test","x":46,"y":55},{"s":"non_sd_test","x":45,"y":52},{"s":"non_sd_test","x":47,"y":52},{"s":"non_sd_test","x":44,"y":48},{"s":"non_sd_test","x":46,"y":49},{"s":"non_sd_test","x":45,"y":45},{"s":"non_sd_test","x":47,"y":44},{"s":"non_sd_test","x":46,"y":42}],
"p5":[{"s":"sd_test","x":48.4,"y":62.5},{"s":"sd_test","x":47.4,"y":59.5},{"s":"sd_test","x":48,"y":61},{"s":"sd_test","x":27.6,"y":48},{"s":"sd_test","x":28.9,"y":45},{"s":"sd_test","x":30.9,"y":45},{"s":"sd_test","x":32.7,"y":42},{"s":"sd_test","x":46.7,"y":54},{"s":"sd_test","x":44.1,"y":51},{"s":"sd_test","x":46.7,"y":46.5},{"s":"sd_test","x":52.2,"y":49.5},{"s":"sd_test","x":53.6,"y":39},{"s":"sd_test","x":54.4,"y":33},{"s":"sd_test","x":54.4,"y":32.5},{"s":"mace_min","x":30.9,"y":45.5},{"s":"mace_min","x":46,"y":42},{"s":"mace_ts","x":28.9,"y":45.5},{"s":"mace_ts","x":46.4,"y":41.7},{"s":"dft_min","x":30.9,"y":45.5},{"s":"dft_min","x":54.4,"y":33},{"s":"dft_ts","x":47.4,"y":59.5},{"s":"dft_ts","x":27.6,"y":47.7},{"s":"dft_ts","x":32.7,"y":42.3}],
"t5":[
{"s":"non_sd_val","x":43.4,"d":0},{"s":"non_sd_val","x":44.1,"d":21},{"s":"non_sd_val","x":45.4,"d":25},{"s":"non_sd_val","x":45.9,"d":27},{"s":"non_sd_val","x":46.9,"d":21},{"s":"non_sd_val","x":48.1,"d":0},
{"s":"non_sd_test","x":43.6,"d":0},{"s":"non_sd_test","x":44.4,"d":22},{"s":"non_sd_test","x":45.2,"d":23.6},{"s":"non_sd_test","x":46,"d":26},{"s":"non_sd_test","x":46.9,"d":19},{"s":"non_sd_test","x":47.9,"d":0},
{"s":"sd_test","x":19.9,"d":0},{"s":"sd_test","x":25.9,"d":2.6},{"s":"sd_test","x":30.4,"d":5.1},{"s":"sd_test","x":34.9,"d":3.1},{"s":"sd_test","x":40.9,"d":1},{"s":"sd_test","x":46.9,"d":3.6},{"s":"sd_test","x":54.9,"d":1},{"s":"sd_test","x":60.9,"d":0},
{"s":"mace_min","x":20.9,"d":0},{"s":"mace_min","x":30.9,"d":2},{"s":"mace_min","x":37.9,"d":1},{"s":"mace_min","x":46.9,"d":3.9},{"s":"mace_min","x":54.9,"d":1.6},{"s":"mace_min","x":62.9,"d":0},
{"s":"dft_min","x":0,"d":0},{"s":"dft_min","x":20,"d":0.8},{"s":"dft_min","x":32,"d":2},{"s":"dft_min","x":45,"d":1},{"s":"dft_min","x":60,"d":0.8},{"s":"dft_min","x":82,"d":0},
{"s":"dft_ts","x":0,"d":0},{"s":"dft_ts","x":20.9,"d":1},{"s":"dft_ts","x":30.9,"d":3.4},{"s":"dft_ts","x":40.9,"d":1.6},{"s":"dft_ts","x":55.9,"d":0.9},{"s":"dft_ts","x":82.2,"d":0}],
"r5":[
{"s":"non_sd_val","y":41.5,"d":0},{"s":"non_sd_val","y":42.5,"d":4.9},{"s":"non_sd_val","y":48,"d":7.9},{"s":"non_sd_val","y":50,"d":9.4},{"s":"non_sd_val","y":52.5,"d":6.9},{"s":"non_sd_val","y":54.7,"d":2.4},{"s":"non_sd_val","y":56,"d":0},
{"s":"non_sd_test","y":42,"d":0.5},{"s":"non_sd_test","y":43.5,"d":5},{"s":"non_sd_test","y":48.5,"d":7.4},{"s":"non_sd_test","y":51.5,"d":4.9},{"s":"non_sd_test","y":54.7,"d":2.4},{"s":"non_sd_test","y":56,"d":0},
{"s":"sd_val","y":28,"d":0},{"s":"sd_val","y":36,"d":2},{"s":"sd_val","y":45,"d":4},{"s":"sd_val","y":52,"d":2},{"s":"sd_val","y":60,"d":2},{"s":"sd_val","y":66,"d":2.5},{"s":"sd_val","y":74,"d":0},
{"s":"sd_test","y":28,"d":0},{"s":"sd_test","y":35,"d":1.5},{"s":"sd_test","y":42,"d":3},{"s":"sd_test","y":48,"d":3.5},{"s":"sd_test","y":55,"d":2},{"s":"sd_test","y":60,"d":2},{"s":"sd_test","y":64,"d":3.4},{"s":"sd_test","y":68,"d":1.5},{"s":"sd_test","y":75,"d":0},
{"s":"mace_ts","y":30,"d":0},{"s":"mace_ts","y":38,"d":1.5},{"s":"mace_ts","y":39.5,"d":4},{"s":"mace_ts","y":41,"d":22.8},{"s":"mace_ts","y":42.2,"d":5},{"s":"mace_ts","y":44,"d":2},{"s":"mace_ts","y":50,"d":1.5},{"s":"mace_ts","y":60,"d":0.5},{"s":"mace_ts","y":70,"d":0},
{"s":"dft_min","y":16,"d":0},{"s":"dft_min","y":25,"d":1.3},{"s":"dft_min","y":28.5,"d":3},{"s":"dft_min","y":40,"d":3},{"s":"dft_min","y":50,"d":3.5},{"s":"dft_min","y":60,"d":1.5},{"s":"dft_min","y":68,"d":0.5},{"s":"dft_min","y":75,"d":0},
{"s":"dft_ts","y":20,"d":0},{"s":"dft_ts","y":30,"d":1.5},{"s":"dft_ts","y":40,"d":3},{"s":"dft_ts","y":50,"d":3.5},{"s":"dft_ts","y":60,"d":1.5},{"s":"dft_ts","y":72,"d":0}],
"c6":[
{"s":"non_sd_train","x":30.6,"y":70.5},{"s":"non_sd_train","x":40.6,"y":68},{"s":"non_sd_train","x":52.6,"y":61.5},{"s":"non_sd_train","x":59.6,"y":53.5},{"s":"non_sd_train","x":57.6,"y":46.5},{"s":"non_sd_train","x":52.6,"y":40.5},{"s":"non_sd_train","x":50.6,"y":33.5},{"s":"non_sd_train","x":42.6,"y":30.7},{"s":"non_sd_train","x":32.6,"y":35.5},{"s":"non_sd_train","x":24.6,"y":43.5},{"s":"non_sd_train","x":22.4,"y":51.5},{"s":"non_sd_train","x":21.6,"y":61.5},{"s":"non_sd_train","x":24.6,"y":67.5},
{"s":"non_sd_val","x":35.6,"y":72.8},{"s":"non_sd_val","x":46.6,"y":71.5},{"s":"non_sd_val","x":59.6,"y":63.5},{"s":"non_sd_val","x":62.6,"y":55.5},{"s":"non_sd_val","x":60.6,"y":49.5},{"s":"non_sd_val","x":55.6,"y":42.5},{"s":"non_sd_val","x":54.6,"y":34.5},{"s":"non_sd_val","x":49.6,"y":27.5},{"s":"non_sd_val","x":43.6,"y":25.5},{"s":"non_sd_val","x":33.6,"y":29.5},{"s":"non_sd_val","x":24.6,"y":38.5},{"s":"non_sd_val","x":21.1,"y":48.5},{"s":"non_sd_val","x":22.6,"y":60.5},{"s":"non_sd_val","x":26.6,"y":69.5},
{"s":"non_sd_test","x":30.6,"y":70},{"s":"non_sd_test","x":40.6,"y":67.5},{"s":"non_sd_test","x":52.6,"y":61},{"s":"non_sd_test","x":59.3,"y":53.5},{"s":"non_sd_test","x":57.3,"y":46.5},{"s":"non_sd_test","x":52,"y":40},{"s":"non_sd_test","x":49.6,"y":33},{"s":"non_sd_test","x":42.6,"y":30.9},{"s":"non_sd_test","x":33,"y":35.5},{"s":"non_sd_test","x":25,"y":44},{"s":"non_sd_test","x":22.4,"y":51.5},{"s":"non_sd_test","x":22,"y":61.5},{"s":"non_sd_test","x":25,"y":67},
{"s":"sd_train","g":1,"x":20.6,"y":78.1},{"s":"sd_train","g":1,"x":27.6,"y":75.5},{"s":"sd_train","g":1,"x":36.6,"y":69.5},{"s":"sd_train","g":1,"x":43.6,"y":61.5},{"s":"sd_train","g":1,"x":47.6,"y":53.5},{"s":"sd_train","g":1,"x":44.6,"y":50.5},{"s":"sd_train","g":1,"x":39.6,"y":51.5},{"s":"sd_train","g":1,"x":34.6,"y":50},{"s":"sd_train","g":1,"x":27.6,"y":57.5},{"s":"sd_train","g":1,"x":22.6,"y":64.5},{"s":"sd_train","g":1,"x":18.1,"y":71.5},{"s":"sd_train","g":1,"x":16.8,"y":75.5},
{"s":"sd_train","g":2,"x":22.6,"y":54.5},{"s":"sd_train","g":2,"x":34.6,"y":52.5},{"s":"sd_train","g":2,"x":44.6,"y":50.5},{"s":"sd_train","g":2,"x":54.6,"y":45.5},{"s":"sd_train","g":2,"x":65.6,"y":35.5},{"s":"sd_train","g":2,"x":73.6,"y":21.5},{"s":"sd_train","g":2,"x":70.6,"y":17},{"s":"sd_train","g":2,"x":62.6,"y":17},{"s":"sd_train","g":2,"x":50.6,"y":23.5},{"s":"sd_train","g":2,"x":43.6,"y":25.5},{"s":"sd_train","g":2,"x":32.6,"y":29.5},{"s":"sd_train","g":2,"x":22.6,"y":39.5},{"s":"sd_train","g":2,"x":18.1,"y":49.5},
{"s":"mace_min","x":33.6,"y":44},{"s":"mace_min","x":46.6,"y":39.5},{"s":"mace_min","x":55.6,"y":34.5},{"s":"mace_min","x":64.6,"y":29.5},{"s":"mace_min","x":64.1,"y":28},{"s":"mace_min","x":62.1,"y":26.5},{"s":"mace_min","x":54.6,"y":29.5},{"s":"mace_min","x":42.6,"y":36.5},{"s":"mace_min","x":34.6,"y":40.5},
{"s":"mace_ts","x":32.6,"y":44},{"s":"mace_ts","x":37.6,"y":45.5},{"s":"mace_ts","x":47.6,"y":40.5},{"s":"mace_ts","x":60.6,"y":32.5},{"s":"mace_ts","x":64.4,"y":29.5},{"s":"mace_ts","x":60.6,"y":28.5},{"s":"mace_ts","x":50.6,"y":32.5},{"s":"mace_ts","x":40.6,"y":36.5},{"s":"mace_ts","x":34.6,"y":40.5}],
"k6":[{"x":33.6,"y":66},{"x":40.6,"y":62.5},{"x":46.6,"y":59.5},{"x":51.6,"y":58},{"x":55.6,"y":52.5},{"x":54.6,"y":49.5},{"x":49.6,"y":45.5},{"x":47.6,"y":36.5},{"x":38.6,"y":35.5},{"x":32.1,"y":38.5},{"x":31.6,"y":43.5},{"x":26.6,"y":46},{"x":27.6,"y":53.5},{"x":26.1,"y":60}],
"q6":[{"s":"non_sd_test","x":35,"y":62},{"s":"non_sd_test","x":38,"y":61},{"s":"non_sd_test","x":30,"y":59},{"s":"non_sd_test","x":33,"y":59},{"s":"non_sd_test","x":36,"y":59},{"s":"non_sd_test","x":39,"y":59},{"s":"non_sd_test","x":42,"y":59},{"s":"non_sd_test","x":45,"y":57.5},{"s":"non_sd_test","x":29,"y":56},{"s":"non_sd_test","x":32,"y":56},{"s":"non_sd_test","x":35,"y":56},{"s":"non_sd_test","x":38,"y":56},{"s":"non_sd_test","x":41,"y":56},{"s":"non_sd_test","x":44,"y":56},{"s":"non_sd_test","x":47,"y":56},{"s":"non_sd_test","x":50,"y":56},{"s":"non_sd_test","x":30,"y":53},{"s":"non_sd_test","x":33,"y":53},{"s":"non_sd_test","x":36,"y":53},{"s":"non_sd_test","x":39,"y":53},{"s":"non_sd_test","x":42,"y":53},{"s":"non_sd_test","x":45,"y":53},{"s":"non_sd_test","x":48,"y":53},{"s":"non_sd_test","x":51,"y":53},{"s":"non_sd_test","x":54,"y":52.5},{"s":"non_sd_test","x":30,"y":50},{"s":"non_sd_test","x":33,"y":50},{"s":"non_sd_test","x":36,"y":50},{"s":"non_sd_test","x":39,"y":50},{"s":"non_sd_test","x":42,"y":50},{"s":"non_sd_test","x":45,"y":50},{"s":"non_sd_test","x":48,"y":50},{"s":"non_sd_test","x":51,"y":50},{"s":"non_sd_test","x":29,"y":47},{"s":"non_sd_test","x":32,"y":47},{"s":"non_sd_test","x":35,"y":47},{"s":"non_sd_test","x":38,"y":47},{"s":"non_sd_test","x":41,"y":47},{"s":"non_sd_test","x":44,"y":47},{"s":"non_sd_test","x":47,"y":47},{"s":"non_sd_test","x":33,"y":44},{"s":"non_sd_test","x":36,"y":44},{"s":"non_sd_test","x":39,"y":44},{"s":"non_sd_test","x":42,"y":44},{"s":"non_sd_test","x":45,"y":44},{"s":"non_sd_test","x":35,"y":41},{"s":"non_sd_test","x":38,"y":41},{"s":"non_sd_test","x":41,"y":41},{"s":"non_sd_test","x":44,"y":41},{"s":"non_sd_test","x":46,"y":40},{"s":"non_sd_test","x":37,"y":38},{"s":"non_sd_test","x":40,"y":38},{"s":"non_sd_test","x":43,"y":38}],
"p6":[{"s":"sd_train","x":32.1,"y":64.5},{"s":"sd_train","x":35.1,"y":39.2},{"s":"sd_test","x":53,"y":33},{"s":"sd_test","x":55,"y":33.5},{"s":"sd_test","x":54,"y":34.5},{"s":"mace_min","x":45.4,"y":39.8},{"s":"mace_ts","x":42.6,"y":38.5},{"s":"mace_ts","x":54,"y":32.5},{"s":"dft_min","x":54.5,"y":33.5},{"s":"dft_ts","x":53.5,"y":33}],
"t6":[
{"s":"non_sd_train","x":24.6,"d":0},{"s":"non_sd_train","x":27.6,"d":6},{"s":"non_sd_train","x":32.6,"d":13.9},{"s":"non_sd_train","x":40.6,"d":13.6},{"s":"non_sd_train","x":46.6,"d":10},{"s":"non_sd_train","x":52.6,"d":3},{"s":"non_sd_train","x":56.6,"d":0},
{"s":"non_sd_val","x":25.6,"d":0},{"s":"non_sd_val","x":30.6,"d":2.6},{"s":"non_sd_val","x":36.6,"d":10},{"s":"non_sd_val","x":40.1,"d":16},{"s":"non_sd_val","x":42.8,"d":17.6},{"s":"non_sd_val","x":46.6,"d":12.6},{"s":"non_sd_val","x":50.6,"d":5},{"s":"non_sd_val","x":55.6,"d":0},
{"s":"non_sd_test","x":24.6,"d":0},{"s":"non_sd_test","x":27.6,"d":7.1},{"s":"non_sd_test","x":31.6,"d":13.1},{"s":"non_sd_test","x":37.6,"d":15.1},{"s":"non_sd_test","x":42.6,"d":12.6},{"s":"non_sd_test","x":47.6,"d":9.1},{"s":"non_sd_test","x":52.6,"d":4.1},{"s":"non_sd_test","x":56.6,"d":0},
{"s":"sd_train","x":21.6,"d":0},{"s":"sd_train","x":27.6,"d":2.6},{"s":"sd_train","x":34.1,"d":4.8},{"s":"sd_train","x":37.6,"d":4},{"s":"sd_train","x":42.6,"d":1.6},{"s":"sd_train","x":47.6,"d":5},{"s":"sd_train","x":50.6,"d":15},{"s":"sd_train","x":53.1,"d":20},{"s":"sd_train","x":55.6,"d":18},{"s":"sd_train","x":58.6,"d":9},{"s":"sd_train","x":62.6,"d":2},{"s":"sd_train","x":68.6,"d":0},
{"s":"sd_test","x":52.6,"d":0},{"s":"sd_test","x":53.6,"d":28.1},{"s":"sd_test","x":55.6,"d":28.1},{"s":"sd_test","x":56.6,"d":0},
{"s":"mace_min","x":34.6,"d":0},{"s":"mace_min","x":38.6,"d":3},{"s":"mace_min","x":42.6,"d":9},{"s":"mace_min","x":46.6,"d":12},{"s":"mace_min","x":50.6,"d":16.6},{"s":"mace_min","x":55.6,"d":16},{"s":"mace_min","x":58.6,"d":8},{"s":"mace_min","x":63.6,"d":1},{"s":"mace_min","x":67.6,"d":0},
{"s":"dft_min","x":49.1,"d":0},{"s":"dft_min","x":50.9,"d":16},{"s":"dft_min","x":51.4,"d":28.1},{"s":"dft_min","x":56.8,"d":28.1},{"s":"dft_min","x":58.1,"d":16},{"s":"dft_min","x":60.1,"d":0},
{"s":"dft_ts","x":48.6,"d":0},{"s":"dft_ts","x":50.6,"d":6},{"s":"dft_ts","x":51.6,"d":28.1},{"s":"dft_ts","x":56.1,"d":28.1},{"s":"dft_ts","x":57.4,"d":6},{"s":"dft_ts","x":59.6,"d":0}],
"r6":[
{"s":"non_sd_val","y":34,"d":0},{"s":"non_sd_val","y":38,"d":3},{"s":"non_sd_val","y":44,"d":6},{"s":"non_sd_val","y":49,"d":9},{"s":"non_sd_val","y":52,"d":11.3},{"s":"non_sd_val","y":55,"d":10},{"s":"non_sd_val","y":60,"d":6.5},{"s":"non_sd_val","y":64,"d":2},{"s":"non_sd_val","y":66,"d":0},
{"s":"non_sd_test","y":34.5,"d":0.6},{"s":"non_sd_test","y":35.5,"d":3.6},{"s":"non_sd_test","y":41.5,"d":5.6},{"s":"non_sd_test","y":46.5,"d":7.6},{"s":"non_sd_test","y":53,"d":10.4},{"s":"non_sd_test","y":59.5,"d":7.6},{"s":"non_sd_test","y":64,"d":3.6},{"s":"non_sd_test","y":65.5,"d":0},
{"s":"sd_train","y":21.5,"d":0},{"s":"sd_train","y":26,"d":1.2},{"s":"sd_train","y":28,"d":3},{"s":"sd_train","y":31,"d":8},{"s":"sd_train","y":33,"d":18},{"s":"sd_train","y":34.5,"d":24},{"s":"sd_train","y":35,"d":24},{"s":"sd_train","y":37,"d":20},{"s":"sd_train","y":40,"d":6},{"s":"sd_train","y":43,"d":3},{"s":"sd_train","y":50,"d":1.5},{"s":"sd_train","y":60,"d":0.5},{"s":"sd_train","y":73,"d":0},
{"s":"mace_min","y":24,"d":0},{"s":"mace_min","y":28,"d":0.6},{"s":"mace_min","y":31,"d":5},{"s":"mace_min","y":33,"d":20},{"s":"mace_min","y":34.5,"d":24},{"s":"mace_min","y":36,"d":15},{"s":"mace_min","y":38,"d":14.5},{"s":"mace_min","y":40,"d":10},{"s":"mace_min","y":42,"d":5},{"s":"mace_min","y":45,"d":1},{"s":"mace_min","y":50,"d":0},
{"s":"mace_ts","y":24,"d":0},{"s":"mace_ts","y":28,"d":1},{"s":"mace_ts","y":30,"d":5},{"s":"mace_ts","y":32,"d":15},{"s":"mace_ts","y":33.5,"d":24},{"s":"mace_ts","y":35,"d":24},{"s":"mace_ts","y":37,"d":16},{"s":"mace_ts","y":40,"d":8},{"s":"mace_ts","y":44,"d":2},{"s":"mace_ts","y":48,"d":0.5},{"s":"mace_ts","y":55,"d":0},
{"s":"dft_min","y":28,"d":0},{"s":"dft_min","y":30.5,"d":3},{"s":"dft_min","y":31,"d":24},{"s":"dft_min","y":35,"d":24},{"s":"dft_min","y":36,"d":3},{"s":"dft_min","y":37.5,"d":0},
{"s":"dft_ts","y":29,"d":0},{"s":"dft_ts","y":31,"d":2},{"s":"dft_ts","y":32,"d":24},{"s":"dft_ts","y":34.5,"d":24},{"s":"dft_ts","y":35.5,"d":2},{"s":"dft_ts","y":37,"d":0}]
},
"spacing":5,"vconcat":[
{"spacing":13.5,"hconcat":[
{"bounds":"flush","spacing":19,"vconcat":[
{"width":273,"height":95,"title":"Paracetamol","data":{"name":"t1"},"mark":"area","encoding":{"x":{"field":"x","type":"quantitative","scale":{"domain":[0,79.3]},"axis":{"title":null}},"y":{"field":"d","type":"quantitative","stack":null,"scale":{"domain":[0,28.5]},"axis":{"title":"Density","titleFontSize":16.67,"titlePadding":12}},"fillOpacity":{"condition":{"test":"indexof(datum.s,'dft')>=0","value":0.22},"value":0.5},"fill":{"field":"s","scale":{"domain":["non_sd_train","non_sd_val","non_sd_test","sd_train","sd_val","sd_test","mace_min","mace_ts","dft_min","dft_ts"]}},"stroke":{"field":"s","scale":{"domain":["non_sd_train","non_sd_val","non_sd_test","sd_train","sd_val","sd_test","mace_min","mace_ts","dft_min","dft_ts"]}}}},
{"bounds":"flush","spacing":16.5,"hconcat":[
{"width":273,"height":321,"encoding":{"x":{"field":"x","type":"quantitative","scale":{"domain":[0,79.3]},"axis":{"title":null,"grid":true,"values":[7.8,32.5,57.2]}},"y":{"field":"y","type":"quantitative","scale":{"domain":[0,96.3]},"axis":{"title":"UMAP Dimension 2","titlePadding":14,"grid":true,"values":[86.1,69.3,52.5,35.7,18.9,2.1]}}},"layer":[
{"data":{"name":"c1"},"mark":"line","encoding":{"fill":{"field":"s"},"stroke":{"field":"s"},"detail":{"field":"g"}}},
{"data":{"name":"k1"},"mark":{"type":"line","fillOpacity":0.95,"strokeOpacity":1,"fill":"#8e2a1c","stroke":"#8e2a1c"},"encoding":{}},
{"data":{"name":"q1"},"mark":{"type":"point","filled":true,"size":55,"stroke":"#4a1410","strokeWidth":0.4},"encoding":{"color":{"field":"s"},"shape":{"field":"s"}}},
{"data":{"name":"p1"},"mark":{"type":"point","filled":true,"size":85,"opacity":0.9,"stroke":"#12402a","strokeWidth":0.5},"encoding":{"color":{"field":"s"},"shape":{"field":"s"}}},
{"data":{"name":"e"},"mark":{"type":"point","filled":true,"opacity":1},"encoding":{"color":{"field":"s","type":"nominal","scale":{"domain":["non_sd_train","non_sd_val","non_sd_test","sd_train","sd_val","sd_test","mace_min","mace_ts","dft_min","dft_ts"]},"legend":{"disable":false,"title":"Datasets","orient":"none","legendX":-156,"legendY":226,"titleAnchor":"middle","titleFontSize":13.9,"titleFontWeight":"normal","titlePadding":6,"labelFontSize":12.5,"symbolSize":90,"symbolOffset":5,"labelOffset":14,"strokeColor":"#ccc","fillColor":"#fff","cornerRadius":4,"padding":7,"rowPadding":3.6,"symbolOpacity":1}},"shape":{"field":"s","type":"nominal","scale":{"domain":["non_sd_train","non_sd_val","non_sd_test","sd_train","sd_val","sd_test","mace_min","mace_ts","dft_min","dft_ts"],"range":["circle","square","triangle-up","circle","square","triangle-up","cross","M-1,-0.6L-0.6,-1L0,-0.4L0.6,-1L1,-0.6L0.4,0L1,0.6L0.6,1L0,0.4L-0.6,1L-1,0.6L-0.4,0Z","M0,-1L0.235,-0.324L0.951,-0.309L0.38,0.124L0.588,0.809L0,0.4L-0.588,0.809L-0.38,0.124L-0.951,-0.309L-0.235,-0.324Z","M0,-1.45L0.95,0L0,1.45L-0.95,0Z"]},"legend":{"disable":false,"title":"Datasets"}}}}]},
{"width":80.4,"height":321,"data":{"name":"r1"},"mark":{"type":"area","orient":"horizontal"},"encoding":{"y":{"field":"y","type":"quantitative","scale":{"domain":[0,96.3]},"axis":{"title":null}},"x":{"field":"d","type":"quantitative","stack":null,"scale":{"domain":[0,23.3]},"axis":{"title":"Density","titleFontSize":16.67,"titlePadding":11}},"fillOpacity":{"condition":{"test":"indexof(datum.s,'dft')>=0","value":0.22},"value":0.5},"fill":{"field":"s"},"stroke":{"field":"s"}}}]}]},
{"bounds":"flush","spacing":19,"vconcat":[
{"width":274,"height":95,"title":"Malonaldehyde","data":{"name":"t2"},"mark":"area","encoding":{"x":{"field":"x","type":"quantitative","scale":{"domain":[0,82.2]},"axis":{"title":null}},"y":{"field":"d","type":"quantitative","stack":null,"scale":{"domain":[0,28.5]},"axis":{"title":"Density","titleFontSize":16.67,"titlePadding":12}},"fillOpacity":{"condition":{"test":"indexof(datum.s,'dft')>=0","value":0.22},"value":0.5},"fill":{"field":"s"},"stroke":{"field":"s"}}},
{"bounds":"flush","spacing":16,"hconcat":[
{"width":274,"height":321,"encoding":{"x":{"field":"x","type":"quantitative","scale":{"domain":[0,82.2]},"axis":{"title":null,"grid":true,"values":[15.9,33.7,51.3,68.8]}},"y":{"field":"y","type":"quantitative","scale":{"domain":[0,96.3]},"axis":{"title":null,"grid":true,"values":[89.1,72.9,56.7,40.6,24.6,8.4]}}},"layer":[
{"data":{"name":"c2"},"mark":"line","encoding":{"fill":{"field":"s"},"stroke":{"field":"s"},"detail":{"field":"g"}}},
{"data":{"name":"k2"},"mark":{"type":"line","fillOpacity":0.95,"strokeOpacity":1,"fill":"#7f4630","stroke":"#7f4630"},"encoding":{}},
{"data":{"name":"q2"},"mark":{"type":"point","filled":true,"size":55,"fillOpacity":0.12,"stroke":"#5a2a1c","strokeWidth":0.4},"encoding":{"color":{"field":"s"},"shape":{"field":"s"}}},
{"data":{"name":"p2"},"mark":{"type":"point","filled":true,"size":85,"opacity":0.9,"stroke":"#12402a","strokeWidth":0.5},"encoding":{"color":{"field":"s"},"shape":{"field":"s"}}}]},
{"width":80.4,"height":321,"data":{"name":"r2"},"mark":{"type":"area","orient":"horizontal"},"encoding":{"y":{"field":"y","type":"quantitative","scale":{"domain":[0,96.3]},"axis":{"title":null}},"x":{"field":"d","type":"quantitative","stack":null,"scale":{"domain":[0,24.1]},"axis":{"title":"Density","titleFontSize":16.67,"titlePadding":11}},"fillOpacity":{"condition":{"test":"indexof(datum.s,'dft')>=0","value":0.22},"value":0.5},"fill":{"field":"s"},"stroke":{"field":"s"}}}]}]},
{"bounds":"flush","spacing":19,"vconcat":[
{"width":273,"height":95,"title":"Salicylic","data":{"name":"t3"},"mark":"area","encoding":{"x":{"field":"x","type":"quantitative","scale":{"domain":[0,81.9]},"axis":{"title":null}},"y":{"field":"d","type":"quantitative","stack":null,"scale":{"domain":[0,28.5]},"axis":{"title":"Density","titleFontSize":16.67,"titlePadding":12}},"fillOpacity":{"condition":{"test":"indexof(datum.s,'dft')>=0","value":0.22},"value":0.5},"fill":{"field":"s"},"stroke":{"field":"s"}}},
{"bounds":"flush","spacing":17,"hconcat":[
{"width":273,"height":321,"encoding":{"x":{"field":"x","type":"quantitative","scale":{"domain":[0,81.9]},"axis":{"title":null,"grid":true,"values":[9.9,32.5,55.2,77.7]}},"y":{"field":"y","type":"quantitative","scale":{"domain":[0,96.3]},"axis":{"title":null,"grid":true,"values":[86.1,70.5,54.6,39,23.1,7.5]}}},"layer":[
{"data":{"name":"c3"},"mark":"line","encoding":{"fill":{"field":"s"},"stroke":{"field":"s"},"detail":{"field":"g"}}},
{"data":{"name":"k3"},"mark":{"type":"line","fillOpacity":0.95,"strokeOpacity":1,"fill":"#a01c14","stroke":"#a01c14"},"encoding":{}},
{"data":{"name":"q3"},"mark":{"type":"point","filled":true,"size":55,"stroke":"#4a1410","strokeWidth":0.4},"encoding":{"color":{"field":"s"},"shape":{"field":"s"}}},
{"data":{"name":"p3"},"mark":{"type":"point","filled":true,"size":85,"opacity":0.9,"stroke":"#12402a","strokeWidth":0.5},"encoding":{"color":{"field":"s"},"shape":{"field":"s"}}}]},
{"width":80,"height":321,"data":{"name":"r3"},"mark":{"type":"area","orient":"horizontal"},"encoding":{"y":{"field":"y","type":"quantitative","scale":{"domain":[0,96.3]},"axis":{"title":null}},"x":{"field":"d","type":"quantitative","stack":null,"scale":{"domain":[0,24]},"axis":{"title":"Density","titleFontSize":16.67,"titlePadding":11}},"fillOpacity":{"condition":{"test":"indexof(datum.s,'dft')>=0","value":0.22},"value":0.5},"fill":{"field":"s"},"stroke":{"field":"s"}}}]}]}]},
{"spacing":13.5,"hconcat":[
{"bounds":"flush","spacing":19,"vconcat":[
{"width":273,"height":94,"title":"Aspirin","data":{"name":"t4"},"mark":"area","encoding":{"x":{"field":"x","type":"quantitative","scale":{"domain":[0,81.9]},"axis":{"title":null}},"y":{"field":"d","type":"quantitative","stack":null,"scale":{"domain":[0,28.2]},"axis":{"title":"Density","titleFontSize":16.67,"titlePadding":12}},"fillOpacity":{"condition":{"test":"indexof(datum.s,'dft')>=0","value":0.22},"value":0.5},"fill":{"field":"s"},"stroke":{"field":"s"}}},
{"bounds":"flush","spacing":16.5,"hconcat":[
{"width":273,"height":322,"encoding":{"x":{"field":"x","type":"quantitative","scale":{"domain":[0,81.9]},"axis":{"title":"UMAP Dimension 1","grid":true,"values":[14.1,36.7,59.2]}},"y":{"field":"y","type":"quantitative","scale":{"domain":[0,96.7]},"axis":{"title":"UMAP Dimension 2","titlePadding":14,"grid":true,"values":[84.7,71.2,58,44.5,31.3,17.8,4.6]}}},"layer":[
{"data":{"name":"c4"},"mark":"line","encoding":{"fill":{"field":"s"},"stroke":{"field":"s"},"detail":{"field":"g"}}},
{"data":{"name":"k4"},"mark":{"type":"line","fillOpacity":0.95,"strokeOpacity":1,"fill":"#7a1c14","stroke":"#7a1c14"},"encoding":{}},
{"data":{"name":"q4"},"mark":{"type":"point","filled":true,"size":30,"stroke":"#4a1410","strokeWidth":0.4},"encoding":{"color":{"field":"s"},"shape":{"field":"s"}}},
{"data":{"name":"p4"},"mark":{"type":"point","filled":true,"size":85,"opacity":0.9,"stroke":"#12402a","strokeWidth":0.5},"encoding":{"color":{"field":"s"},"shape":{"field":"s"}}}]},
{"width":80.4,"height":322,"data":{"name":"r4"},"mark":{"type":"area","orient":"horizontal"},"encoding":{"y":{"field":"y","type":"quantitative","scale":{"domain":[0,96.7]},"axis":{"title":null}},"x":{"field":"d","type":"quantitative","stack":null,"scale":{"domain":[0,24.1]},"axis":{"title":"Density","titleFontSize":16.67,"titlePadding":11}},"fillOpacity":{"condition":{"test":"indexof(datum.s,'dft')>=0","value":0.22},"value":0.5},"fill":{"field":"s"},"stroke":{"field":"s"}}}]}]},
{"bounds":"flush","spacing":19,"vconcat":[
{"width":274,"height":94,"title":"Azobenzene","data":{"name":"t5"},"mark":"area","encoding":{"x":{"field":"x","type":"quantitative","scale":{"domain":[0,82.2]},"axis":{"title":null}},"y":{"field":"d","type":"quantitative","stack":null,"scale":{"domain":[0,28.2]},"axis":{"title":"Density","titleFontSize":16.67,"titlePadding":12}},"fillOpacity":{"condition":{"test":"indexof(datum.s,'dft')>=0","value":0.22},"value":0.5},"fill":{"field":"s"},"stroke":{"field":"s"}}},
{"bounds":"flush","spacing":16,"hconcat":[
{"width":274,"height":322,"encoding":{"x":{"field":"x","type":"quantitative","scale":{"domain":[0,82.2]},"axis":{"title":"UMAP Dimension 1","grid":true,"values":[18.7,38.2,57.7,77.2]}},"y":{"field":"y","type":"quantitative","scale":{"domain":[0,96.7]},"axis":{"title":null,"grid":true,"values":[89.7,72.7,55.3,38.2,21.1,3.7]}}},"layer":[
{"data":{"name":"c5"},"mark":"line","encoding":{"fill":{"field":"s"},"stroke":{"field":"s"},"detail":{"field":"g"}}},
{"data":{"name":"k5"},"mark":{"type":"line","fillOpacity":0.95,"strokeOpacity":1,"fill":"#8a4020","stroke":"#8a4020"},"encoding":{}},
{"data":{"name":"q5"},"mark":{"type":"point","filled":true,"size":40,"fillOpacity":0.12,"stroke":"#5a2a1c","strokeWidth":0.4},"encoding":{"color":{"field":"s"},"shape":{"field":"s"}}},
{"data":{"name":"p5"},"mark":{"type":"point","filled":true,"size":85,"opacity":0.9,"stroke":"#12402a","strokeWidth":0.5},"encoding":{"color":{"field":"s"},"shape":{"field":"s"}}}]},
{"width":80.4,"height":322,"data":{"name":"r5"},"mark":{"type":"area","orient":"horizontal"},"encoding":{"y":{"field":"y","type":"quantitative","scale":{"domain":[0,96.7]},"axis":{"title":null}},"x":{"field":"d","type":"quantitative","stack":null,"scale":{"domain":[0,24.1]},"axis":{"title":"Density","titleFontSize":16.67,"titlePadding":11}},"fillOpacity":{"condition":{"test":"indexof(datum.s,'dft')>=0","value":0.22},"value":0.5},"fill":{"field":"s"},"stroke":{"field":"s"}}}]}]},
{"bounds":"flush","spacing":19,"vconcat":[
{"width":273,"height":94,"title":"Ethanol","data":{"name":"t6"},"mark":"area","encoding":{"x":{"field":"x","type":"quantitative","scale":{"domain":[0,81.9]},"axis":{"title":null}},"y":{"field":"d","type":"quantitative","stack":null,"scale":{"domain":[0,28.2]},"axis":{"title":"Density","titleFontSize":16.67,"titlePadding":12}},"fillOpacity":{"condition":{"test":"indexof(datum.s,'dft')>=0","value":0.22},"value":0.5},"fill":{"field":"s"},"stroke":{"field":"s"}}},
{"bounds":"flush","spacing":17,"hconcat":[
{"width":273,"height":322,"encoding":{"x":{"field":"x","type":"quantitative","scale":{"domain":[0,81.9]},"axis":{"title":"UMAP Dimension 1","grid":true,"values":[11.7,31.5,51.7,71.5]}},"y":{"field":"y","type":"quantitative","scale":{"domain":[0,96.7]},"axis":{"title":null,"grid":true,"values":[82.6,65.2,48.1,30.7,13.6]}}},"layer":[
{"data":{"name":"c6"},"mark":"line","encoding":{"fill":{"field":"s"},"stroke":{"field":"s"},"detail":{"field":"g"}}},
{"data":{"name":"k6"},"mark":{"type":"line","fillOpacity":0.95,"strokeOpacity":1,"fill":"#9a1c12","stroke":"#9a1c12"},"encoding":{}},
{"data":{"name":"q6"},"mark":{"type":"point","filled":true,"size":60,"stroke":"#4a1410","strokeWidth":0.4},"encoding":{"color":{"field":"s"},"shape":{"field":"s"}}},
{"data":{"name":"p6"},"mark":{"type":"point","filled":true,"size":85,"opacity":0.9,"stroke":"#12402a","strokeWidth":0.5},"encoding":{"color":{"field":"s"},"shape":{"field":"s"}}}]},
{"width":80,"height":322,"data":{"name":"r6"},"mark":{"type":"area","orient":"horizontal"},"encoding":{"y":{"field":"y","type":"quantitative","scale":{"domain":[0,96.7]},"axis":{"title":null}},"x":{"field":"d","type":"quantitative","stack":null,"scale":{"domain":[0,24]},"axis":{"title":"Density","titleFontSize":16.67,"titlePadding":11}},"fillOpacity":{"condition":{"test":"indexof(datum.s,'dft')>=0","value":0.22},"value":0.5},"fill":{"field":"s"},"stroke":{"field":"s"}}}]}]}]}]}
